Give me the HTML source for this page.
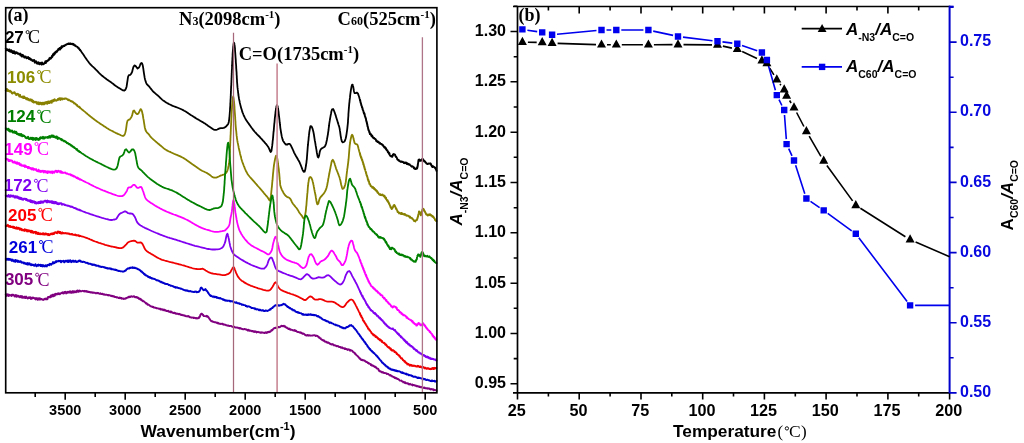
<!DOCTYPE html>
<html><head><meta charset="utf-8"><style>
html,body{margin:0;padding:0;background:#fff;}
body{width:1024px;height:443px;overflow:hidden;font-family:"Liberation Sans",sans-serif;}
svg{display:block;will-change:transform;}
</style></head><body>
<svg width="1024" height="443" viewBox="0 0 1024 443">
<g fill="none" stroke-linejoin="round" stroke-linecap="round" stroke-width="1.8">
<path d="M5.8,48.5 6.2,50.2 6.7,50.2 7.3,49.3 7.7,50.0 8.0,50.0 8.4,50.6 8.7,51.0 9.1,49.6 9.5,49.6 9.9,51.6 10.3,50.8 10.8,51.7 11.2,50.2 11.6,51.3 12.1,52.1 12.5,51.2 12.9,52.9 13.4,53.0 13.8,51.2 14.2,51.4 14.7,52.7 15.1,53.7 15.5,52.6 15.9,52.4 16.3,53.0 16.7,52.3 17.0,52.9 17.4,53.5 17.8,53.8 18.2,53.3 18.5,53.5 18.9,53.6 19.3,54.3 19.7,54.1 20.1,53.6 20.5,55.6 20.9,55.1 21.3,55.5 21.7,54.6 22.0,56.5 22.4,56.4 22.8,54.9 23.2,55.6 23.6,56.6 24.0,56.7 24.4,57.4 24.7,56.4 25.1,57.4 25.5,57.2 25.8,56.6 26.2,57.4 26.6,58.2 26.9,58.3 27.3,57.7 27.6,58.0 28.0,57.0 28.4,57.6 28.9,59.0 29.3,58.4 29.7,58.1 30.1,59.1 30.5,59.7 30.9,59.8 31.3,59.4 31.7,59.7 32.0,60.1 32.4,60.9 32.8,60.5 33.2,60.4 33.5,60.8 33.9,60.0 34.2,60.2 34.6,61.9 34.9,62.6 35.3,62.0 35.6,61.7 36.0,61.3 36.6,62.3 36.9,63.5 37.3,63.1 37.6,62.8 38.1,63.6 38.6,62.4 39.1,63.1 39.5,64.2 39.9,63.5 40.4,63.3 40.8,62.9 41.2,63.6 41.6,64.5 42.0,62.4 42.4,64.1 42.8,64.1 43.2,64.2 43.6,63.8 44.0,63.8 44.3,63.0 44.7,62.9 45.0,62.5 45.4,61.4 45.7,63.0 46.1,62.1 46.4,61.1 46.8,61.5 47.2,61.2 47.5,60.6 47.9,60.3 48.2,60.4 48.5,60.4 48.8,60.1 49.1,59.4 49.4,58.2 49.7,58.3 50.0,57.9 50.3,58.4 50.7,58.7 51.0,58.2 51.3,57.9 51.6,57.6 51.9,56.0 52.2,57.0 52.6,56.3 52.9,54.6 53.2,54.2 53.5,53.8 53.8,55.1 54.1,53.7 54.4,53.1 54.8,53.9 55.1,53.0 55.4,52.0 55.7,51.9 56.0,52.4 56.4,51.3 56.7,51.2 57.0,51.8 57.3,50.9 57.6,50.3 57.9,50.4 58.3,49.1 58.6,49.6 58.9,49.4 59.2,48.6 59.6,48.1 59.9,49.6 60.3,48.4 60.6,47.5 61.0,48.1 61.3,48.3 61.7,46.3 62.0,46.6" stroke="#000000" stroke-width="2.0"/><path d="M62.0,46.7 62.4,47.0 62.7,46.2 63.1,46.5 63.4,46.3 63.8,45.9 64.1,45.4 64.5,46.0 64.8,45.6 65.2,45.1 65.7,44.6 66.1,44.8 66.5,44.3 67.0,44.3 67.4,43.9 67.8,44.1 68.2,43.4 68.6,43.5 69.1,44.1 69.5,44.0 69.9,43.4 70.3,44.0 70.8,43.5 71.2,44.2 71.6,44.1 72.1,43.9 72.5,43.8 72.9,43.8 73.3,44.8 73.8,44.2 74.2,45.2 74.6,45.5 75.0,45.4 75.3,45.2 75.7,46.1 76.0,46.4 76.3,46.4 76.6,46.5 77.0,46.6 77.3,46.9 77.6,47.0 77.9,47.8 78.2,47.9 78.5,48.0 78.9,48.2 79.2,49.1 79.5,49.1 79.7,49.6 80.0,49.7 80.2,50.2" stroke="#000000" stroke-width="1.9"/><path d="M80.2,50.2 81.0,51.1 81.7,52.2 82.4,53.2 83.2,54.3 84.0,55.5 84.6,56.4 85.3,57.4 86.0,58.4 86.7,59.5 87.4,60.5 88.2,61.5 88.9,62.5 89.6,63.4 90.5,64.5 91.5,65.4 92.4,66.3 93.4,67.2 94.4,68.1 95.3,69.0 96.2,70.0 97.2,70.9 98.1,71.9 99.0,72.9 100.0,73.8 100.9,74.7 101.8,75.5 102.8,76.3 103.8,77.1 104.7,77.8 105.7,78.5 106.6,79.2 107.7,80.0 108.8,80.8 109.9,81.5 111.0,82.2 111.9,82.9 113.0,83.7 113.9,84.5 114.8,85.3 115.9,86.1 117.0,86.8 118.2,87.6 119.5,88.3 120.6,89.0 121.9,89.8 123.0,90.4 124.4,90.5 125.4,89.7 126.0,88.4 126.5,87.0 126.7,85.8 126.9,84.5 127.1,83.1 127.3,81.8 127.5,80.6 127.7,79.2 127.9,77.9 128.1,76.7 128.9,75.2 130.2,74.8 131.1,73.9 131.7,72.8 132.2,71.7 132.5,70.3 132.9,68.8 133.2,67.6 133.7,66.4 134.4,65.4 135.4,65.8 136.2,66.7 136.8,67.7 137.6,68.5 138.7,67.8 139.3,66.9 139.8,65.8 140.2,64.7 140.7,63.6 141.7,62.9 142.2,63.8 142.6,64.9 142.9,66.2 143.1,67.4 143.3,68.7 143.5,70.1 143.7,71.5 143.9,72.8 144.1,74.1 144.3,75.4 144.5,76.7 144.7,77.9 145.0,79.2 145.4,80.6 145.8,81.9 146.3,83.1 146.8,84.2 147.9,85.3 148.7,86.0 149.4,86.8 150.1,87.8 151.0,88.9 151.9,90.0 152.8,91.1 153.7,92.0 154.7,92.9 155.6,93.7 156.5,94.4 157.5,95.3 158.5,96.1 159.3,96.9 160.2,97.8 161.1,98.7 162.1,99.6 163.1,100.4 164.1,101.1 165.1,101.8 166.1,102.4 167.1,103.0 168.2,103.6 169.3,104.2 170.5,104.8 171.7,105.4 172.7,105.8 173.8,106.2 174.9,106.7 176.1,107.1 177.2,107.5 178.4,108.0 179.6,108.5 180.8,109.0 181.9,109.5 183.1,110.1 184.1,110.7 185.2,111.3 186.4,112.0 187.5,112.7 188.6,113.5 189.7,114.2 190.7,114.9 191.8,115.6 192.8,116.2 193.7,116.8 194.6,117.4 195.5,117.9 196.7,118.7 198.0,119.4 199.1,120.1 200.1,120.7 201.5,121.5 202.6,122.1 203.9,122.9 205.0,123.6 206.2,124.4 207.2,125.1 208.3,126.0 209.5,126.8 210.6,127.5 211.7,128.2 212.8,129.0 213.9,129.6 215.0,129.9 216.2,129.9 217.3,129.5 218.5,128.9 219.6,128.4 220.9,128.1 222.4,128.1 223.7,127.9 224.9,127.4 226.1,126.5 227.0,125.4 227.9,124.4 228.4,123.3 228.8,121.9 229.0,120.5 229.2,119.3 229.3,118.0 229.5,116.6 229.6,115.1 229.7,114.0 229.8,112.6 229.9,111.5 230.0,110.3 230.0,109.0 230.1,107.8 230.2,106.5 230.3,105.2 230.3,103.9 230.4,102.7 230.5,101.4 230.5,100.2 230.6,99.0 230.7,97.8 230.7,96.6 230.8,95.5 230.8,94.3 230.9,93.1 230.9,91.9 231.0,90.6 231.0,89.3 231.1,88.0 231.1,86.9 231.2,85.8 231.3,84.6 231.3,83.4 231.4,82.2 231.4,80.9 231.5,79.7 231.5,78.5 231.6,77.2 231.6,76.0 231.7,74.8 231.7,73.6 231.8,72.4 231.8,71.1 231.9,69.8 232.0,68.5 232.0,67.2 232.1,65.9 232.1,64.6 232.2,63.3 232.2,62.0 232.3,60.8 232.4,59.6 232.4,58.4 232.5,57.4 232.6,56.0 232.6,54.5 232.7,53.1 232.8,51.8 232.9,50.5 233.0,49.4 233.1,48.3 233.2,46.6 233.4,45.6 233.5,44.3 233.8,42.6 234.3,43.3 234.5,44.7 234.7,45.9 234.8,47.0 235.0,48.7 235.0,49.8 235.1,51.1 235.2,52.4 235.3,53.7 235.4,55.1 235.5,56.6 235.6,58.0 235.7,59.1 235.8,60.3 235.8,61.5 235.9,62.8 236.0,64.0 236.1,65.3 236.2,66.6 236.2,67.9 236.3,69.1 236.4,70.4 236.5,71.6 236.6,72.8 236.6,74.1 236.7,75.3 236.8,76.5 236.8,77.7 236.9,78.9 237.0,80.1 237.0,81.3 237.1,82.4 237.2,83.6 237.3,84.8 237.4,86.1 237.5,87.4 237.7,88.6 237.8,89.9 238.0,91.2 238.1,92.5 238.3,93.7 238.4,95.0 238.6,96.1 238.8,97.3 239.0,98.7 239.3,100.1 239.6,101.4 239.8,102.7 240.1,103.9 240.4,105.1 240.7,106.3 241.0,107.4 241.4,108.8 241.8,110.1 242.2,111.4 242.6,112.6 243.1,113.7 243.5,114.8 244.0,116.0 244.6,117.1 245.1,118.1 245.7,119.2 246.3,120.2 247.0,121.2 247.7,122.3 248.4,123.3 249.2,124.4 250.0,125.5 250.7,126.5 251.4,127.5 252.2,128.5 253.0,129.6 253.8,130.6 254.5,131.5 255.4,132.5 256.3,133.4 257.1,134.3 257.9,135.1 258.8,136.0 259.7,136.9 260.5,137.9 261.5,138.9 262.2,139.7 263.0,140.6 263.9,141.5 264.8,142.6 265.7,143.7 266.6,144.7 267.4,145.8 268.1,146.7 268.6,147.7 269.1,148.7 269.6,149.8 270.1,151.1 270.7,152.1 271.4,151.1 271.6,150.0 271.8,148.4 272.0,147.2 272.2,145.9 272.3,144.6 272.5,143.3 272.6,142.0 272.7,140.8 272.9,139.7 273.0,138.5 273.1,137.3 273.2,136.1 273.3,134.9 273.4,133.6 273.5,132.4 273.7,131.2 273.8,129.9 273.9,128.6 274.0,127.3 274.1,126.1 274.2,124.8 274.3,123.6 274.5,122.3 274.6,121.0 274.7,119.8 274.8,118.5 274.9,117.3 275.1,116.1 275.2,115.0 275.4,113.6 275.5,112.2 275.7,110.8 275.9,109.6 276.0,108.5 276.3,107.2 276.5,106.1 277.0,105.0 277.6,106.1 277.8,107.2 278.1,108.5 278.2,109.6 278.4,110.8 278.6,112.2 278.7,113.6 278.9,115.0 279.0,116.2 279.2,117.4 279.3,118.7 279.5,120.0 279.6,121.2 279.7,122.5 279.9,123.6 280.0,125.0 280.2,126.3 280.3,127.6 280.5,128.9 280.7,130.1 280.9,131.4 281.1,132.8 281.4,134.2 281.6,135.6 281.9,136.9 282.2,138.0 282.6,139.4 283.0,140.6 283.5,141.6 284.2,142.6 285.0,143.7 285.9,144.5 287.5,144.5 288.4,143.8 289.8,143.9 290.6,145.1 291.3,146.3 291.9,147.6 292.5,148.9 293.0,150.0 293.5,151.1 294.0,152.3 294.6,153.5 295.2,154.6 295.8,155.7 296.4,156.7 297.0,157.7 297.6,158.8 298.2,159.9 298.9,161.0 299.5,162.2 300.0,163.4 300.6,164.7 301.1,166.0 301.5,167.0 301.9,168.1 302.4,169.5 302.9,170.6 303.7,171.8 304.6,171.6 305.0,170.4 305.4,169.1 305.6,167.7 305.8,166.6 306.0,165.5 306.1,164.4 306.4,163.0 306.5,161.9 306.6,160.7 306.8,159.5 306.9,158.1 307.0,156.8 307.1,155.5 307.2,154.1 307.3,152.8 307.4,151.6 307.5,150.4 307.6,149.0 307.7,147.6 307.8,146.3 308.0,145.0 308.1,143.7 308.2,142.5 308.3,141.3 308.5,140.1 308.6,138.7 308.7,137.3 308.9,135.9 309.0,134.6 309.2,133.3 309.3,132.1 309.5,131.0 309.7,129.8 309.9,128.6 310.1,127.6 310.5,126.1 311.5,126.3 312.0,127.4 312.5,128.6 312.9,129.9 313.3,131.5 313.6,132.9 313.8,134.0 314.0,135.2 314.2,136.5 314.4,137.8 314.6,139.1 314.8,140.5 315.1,141.8 315.3,143.1 315.5,144.3 315.7,145.7 316.0,147.1 316.2,148.6 316.5,150.1 316.7,151.6 316.9,153.0 317.2,154.3 317.4,155.4 317.8,156.9 318.3,157.6 318.9,156.2 319.2,155.0 319.4,153.9 319.6,152.8 319.8,151.7 320.2,150.4 320.9,149.2 321.8,148.4 322.9,147.8 323.8,147.2 324.9,146.4 325.5,145.3 326.1,143.5 326.3,142.5 326.6,141.3 326.9,140.0 327.1,138.6 327.4,137.1 327.6,135.9 327.9,134.5 328.0,133.3 328.2,132.1 328.4,130.8 328.6,129.5 328.7,128.2 328.9,126.8 329.1,125.5 329.2,124.1 329.4,122.8 329.6,121.6 329.8,120.4 330.0,119.0 330.2,117.9 330.4,116.8 330.6,115.7 330.8,114.7 331.1,113.2 331.3,111.8 331.6,110.7 332.1,109.3 333.1,109.0 333.8,110.2 334.2,111.3 334.7,112.6 335.1,113.7 335.5,114.9 335.9,116.1 336.2,117.4 336.6,118.5 337.0,119.8 337.4,121.1 337.8,122.4 338.2,123.6 338.5,124.7 339.0,126.1 339.4,127.6 339.7,129.0 339.9,130.4 340.1,131.6 340.3,133.1 340.5,134.6 340.7,136.1 341.0,137.5 341.2,138.9 341.5,140.0 341.9,141.4 342.7,142.3 343.9,142.0 344.7,141.1 345.1,140.1 345.6,138.8 346.0,137.1 346.2,136.0 346.4,134.8 346.6,133.6 346.8,132.2 347.0,130.8 347.2,129.3 347.4,127.7 347.5,126.7 347.6,125.6 347.8,123.9 347.9,122.8 348.0,121.7 348.0,120.5 348.1,119.3 348.2,118.0 348.3,116.8 348.4,115.5 348.4,114.2 348.5,113.0 348.6,111.7 348.7,110.4 348.8,109.1 348.9,107.9 349.0,106.7 349.1,105.5 349.2,104.3 349.3,103.2 349.5,101.8 349.6,100.4 349.8,98.9 350.0,97.4 350.1,95.9 350.3,94.4 350.5,92.9 350.7,91.5 350.9,90.2 351.1,88.9 351.3,87.8 351.6,86.2 352.0,84.9 352.6,84.6 353.0,86.1 353.3,87.1 353.5,88.3 353.7,89.5 353.9,90.7 354.1,91.7 354.6,93.1 355.8,93.2 356.8,92.6 357.9,93.4 358.3,94.6 358.8,96.0 359.3,97.6 359.6,98.7 360.0,99.9 360.1,100.4" stroke="#000000"/><path d="M360.1,100.9 360.2,100.1 360.3,100.8 360.4,101.4 360.6,102.8 360.7,102.9 360.8,102.8 360.9,103.0 361.1,104.1 361.2,104.8 361.3,105.4 361.5,105.0 361.6,106.2 361.7,106.3 361.8,106.5 362.0,107.6 362.1,106.9 362.2,108.0 362.3,107.5 362.5,108.0 362.6,109.5 362.7,108.9 362.8,110.0 363.0,110.2 363.1,110.9 363.2,110.6 363.4,111.0 363.5,111.3 363.6,112.4 363.8,112.4 363.9,113.3 364.0,113.6 364.2,112.9 364.3,113.9 364.4,113.6 364.6,113.9 364.7,114.4 364.8,115.9 364.9,116.2 365.1,116.6 365.2,116.4 365.3,117.2 365.5,117.9 365.6,117.7 365.7,118.4 365.8,118.2 365.9,118.4 366.0,119.1 366.1,120.3 366.2,120.3 366.3,121.2 366.4,120.9 366.5,121.1 366.6,122.3 366.7,122.8 366.8,122.0 366.9,123.4 367.0,123.0 367.1,123.5 367.2,125.0 367.3,124.3 367.4,125.0 367.5,126.5 367.6,126.1 367.7,126.1 367.8,126.6 367.9,127.1 368.0,128.2 368.1,127.7 368.2,129.2 368.3,128.9 368.4,130.0 368.5,130.3 368.6,129.8 368.8,130.4 369.0,131.3 369.2,131.1 369.3,132.3 369.5,131.8 369.7,132.2 369.9,134.1 370.2,133.5 370.4,134.2 370.6,134.3 370.9,134.4 371.1,134.3 371.3,135.8 371.6,136.2 371.9,136.4 372.1,135.5 372.4,136.0 372.7,136.9 373.0,137.8 373.3,137.5 373.6,138.0 373.9,138.3 374.3,138.1 374.6,138.8 374.9,138.8 375.2,139.0 375.6,139.1 375.9,139.7 376.2,141.0 376.6,140.5 376.9,141.1 377.2,141.4 377.5,142.1 377.9,141.5 378.2,141.6 378.5,141.9 378.8,142.1 379.1,143.1 379.5,143.4 379.8,142.8 380.1,143.0 380.4,143.6 380.8,143.9 381.1,144.2 381.4,143.9 381.7,143.9 382.0,144.4 382.2,144.4 382.5,145.3 382.8,144.9 383.1,145.2 383.4,146.2 383.6,146.0 383.9,147.0 384.2,146.8 384.5,147.6 384.8,146.9 385.1,147.7 385.4,148.5 385.7,147.8 386.0,149.4 386.2,148.6 386.4,149.8 386.7,150.4 386.9,150.5 387.2,150.2 387.4,150.2 387.7,151.2 387.9,152.2 388.2,151.7 388.4,152.9 388.7,152.3 388.9,153.8 389.2,152.9 389.5,153.7 389.7,154.9 389.9,155.2 390.2,155.6 390.4,155.9 390.6,156.0 390.9,156.2 391.2,156.0 391.6,156.6 392.0,156.1 392.3,156.8 392.5,156.4 392.6,155.4 392.8,154.8 392.9,155.6 393.0,155.0 393.2,154.3 393.5,154.1 393.8,154.4 394.2,154.2 394.4,154.4 394.6,154.6 394.9,154.8 395.1,154.8 395.4,156.1 395.6,156.2 395.9,156.9 396.2,156.6 396.3,157.3 396.5,157.3 396.7,157.6 397.0,158.2 397.3,159.4 397.5,159.2 397.8,159.6 398.1,160.2 398.4,159.9 398.8,159.9 399.1,160.9 399.5,161.0 399.9,161.4 400.3,161.3 400.7,161.8 401.1,162.0 401.5,161.4 402.0,161.9 402.4,162.0 402.8,161.7 403.2,162.1 403.6,162.5 404.0,163.1 404.4,163.2 404.8,162.5 405.2,163.1 405.6,162.4 406.0,162.5 406.3,163.3 406.7,163.9 407.1,163.0 407.5,164.0 407.9,164.3 408.3,163.7 408.7,164.4 409.2,164.8 409.6,164.3 409.9,165.0 410.3,165.2 410.6,165.3 411.0,165.9 411.3,166.3 411.7,166.7 412.1,166.5 412.4,166.2 412.8,166.7 413.2,166.9 413.6,167.7 413.9,168.3 414.3,167.5 414.7,168.7 415.0,168.9 415.3,168.5 415.9,168.9 416.4,168.3 416.8,168.8 417.1,167.2 417.2,168.1 417.4,167.5 417.5,166.8 417.6,165.8 417.7,166.2 417.8,165.8 417.8,164.3 417.9,164.8 417.9,164.5 418.0,163.9 418.0,163.6 418.1,162.9 418.1,163.1 418.2,162.7 418.3,161.4 418.3,161.6 418.4,160.7 418.5,160.0 418.7,159.8 419.1,159.4 419.5,160.3 419.7,160.7 420.0,159.8 420.2,160.8 420.6,160.8 420.9,160.7 421.2,160.6 421.4,160.3 421.6,160.6 421.9,159.1 422.2,159.2 422.6,159.4 423.1,159.2 423.5,160.3 423.8,160.6 424.1,161.3 424.5,160.8 424.7,161.2 425.0,161.8 425.2,161.7 425.6,162.5 425.9,162.4 426.3,163.2 426.6,163.6 427.1,163.8 427.5,164.1 428.0,163.5 428.4,163.4 428.8,163.9 429.2,163.7 429.6,163.5 430.0,163.3 430.3,163.5 430.6,163.5 430.9,164.8 431.2,164.3 431.4,165.5 431.7,165.6 431.9,166.5 432.2,166.6 432.6,167.1 433.0,166.1 433.4,166.8 433.8,167.0 434.1,166.9 434.5,167.4 434.8,167.6 435.1,168.2 435.3,167.7 435.5,168.6 435.6,169.0 435.9,169.2 436.1,169.8 436.5,170.9" stroke="#000000" stroke-width="1.9"/>
<path d="M5.8,90.5 6.2,90.7 6.7,89.0 7.3,89.3 7.7,91.1 8.0,91.0 8.4,91.0 8.7,90.4 9.1,91.3 9.5,91.4 9.9,91.6 10.3,90.8 10.8,91.6 11.2,91.7 11.6,92.6 12.1,93.4 12.5,93.5 12.9,92.8 13.4,92.8 13.8,92.6 14.2,92.3 14.7,92.5 15.1,93.6 15.5,93.5 15.9,93.8 16.3,95.1 16.7,94.4 17.0,94.6 17.4,94.1 17.8,93.8 18.2,94.6 18.5,94.3 18.9,95.3 19.3,96.5 19.7,96.0 20.1,95.0 20.5,96.8 20.9,96.7 21.3,96.7 21.7,97.2 22.0,97.1 22.4,97.3 22.8,96.5 23.2,98.0 23.6,98.1 24.0,96.5 24.4,98.0 24.7,98.0 25.1,97.6 25.5,97.9 25.8,98.0 26.2,99.1 26.6,98.3 26.9,99.1 27.3,98.2 27.6,99.5 28.0,99.8 28.4,99.0 28.9,99.4 29.3,100.4 29.7,100.1 30.1,99.8 30.5,99.4 30.9,99.8 31.3,100.8 31.7,99.8 32.1,101.6 32.5,100.4 32.8,102.0 33.2,100.9 33.6,102.5 33.9,102.1 34.3,101.8 34.6,102.0 35.0,102.4 35.3,102.4 35.6,101.9 36.0,101.8 36.6,102.7 37.1,103.8 37.6,103.3 38.0,102.2 38.4,104.0 38.7,103.8 39.1,104.3 39.5,102.8 39.8,104.1 40.2,102.6 40.5,103.9 40.9,103.1 41.3,103.0 41.8,104.4 42.2,102.7 42.6,103.6 42.9,104.3 43.3,102.9 43.7,102.8 44.0,104.3 44.4,103.2 44.8,103.8 45.2,102.2 45.7,102.8 46.1,102.3 46.5,103.4 46.9,102.0 47.3,103.8 47.7,101.7 48.1,103.1 48.6,101.4 48.9,101.9 49.3,103.0 49.7,101.4 50.1,101.4 50.5,102.4 50.9,101.6 51.3,100.7 51.7,102.7 52.1,100.7 52.4,100.3 52.8,100.8 53.2,101.2 53.6,101.3 53.9,99.8 54.3,100.1 54.7,99.3 55.0,100.1 55.4,100.6 55.8,100.5 56.2,100.7 56.5,100.3 56.9,100.4 57.3,100.0 57.8,99.4 58.2,98.7 58.7,99.6 59.1,98.8 59.6,98.3 60.0,99.0 60.4,99.9 60.9,98.2 61.3,99.2 61.7,98.7 62.2,98.9" stroke="#878000" stroke-width="2.0"/><path d="M62.2,98.6 62.6,99.4 63.0,98.7 63.3,99.0 63.7,98.8 64.2,98.4 64.7,99.0 65.1,98.5 65.6,98.5 66.0,98.5 66.3,98.7 66.8,98.7 67.2,99.3 67.5,99.4 67.9,100.0 68.2,100.0 68.5,100.2 68.8,99.6 69.2,100.0 69.5,100.0 69.9,100.5 70.2,100.8 70.6,101.1 70.9,101.3 71.3,101.0 71.7,101.5 72.1,101.8 72.5,101.5 72.9,101.9 73.3,102.5 73.7,102.5 74.1,103.4 74.4,103.1 74.7,103.2 75.0,103.5 75.3,103.7 75.6,103.9 75.9,104.5 76.2,104.6 76.5,104.7 76.8,105.3 77.1,105.1 77.4,106.1 77.7,106.4 78.1,106.4 78.4,106.4 78.7,106.7 79.0,107.1 79.4,106.8 79.7,107.4 80.0,107.8" stroke="#878000" stroke-width="1.9"/><path d="M80.0,107.8 81.0,108.6 82.0,109.5 83.0,110.3 84.0,111.1 85.0,111.9 85.9,112.7 86.9,113.5 87.9,114.4 88.9,115.2 89.9,116.0 90.8,116.8 91.8,117.5 92.7,118.3 93.7,119.0 94.7,119.8 95.7,120.5 96.7,121.2 97.7,121.9 98.6,122.6 99.6,123.2 100.6,123.9 101.6,124.6 102.7,125.3 103.8,126.1 105.0,126.8 106.1,127.5 107.1,128.2 108.1,128.8 109.2,129.5 110.5,130.2 111.7,130.8 112.9,131.4 114.0,132.0 115.0,132.5 116.2,133.1 117.4,133.6 118.4,134.1 119.5,134.5 120.8,135.2 122.1,135.8 123.5,135.9 124.6,134.6 125.1,133.3 125.4,132.3 125.7,131.1 125.9,130.0 126.1,128.8 126.3,127.3 126.5,125.9 126.7,124.4 126.9,123.1 127.2,121.9 127.6,120.6 128.5,119.8 129.7,119.3 130.4,118.5 131.1,117.5 131.7,116.3 132.2,115.1 132.5,113.7 132.9,112.2 133.2,111.0 134.1,110.4 134.7,111.5 135.3,112.5 136.0,113.3 136.9,114.0 137.9,114.0 138.6,113.2 139.1,112.2 139.6,111.2 140.1,110.0 140.7,109.1 141.6,110.3 142.0,111.5 142.4,113.2 142.6,114.3 142.9,115.6 143.1,117.0 143.3,118.4 143.6,119.7 143.8,121.0 144.0,122.3 144.2,123.6 144.4,124.9 144.6,126.2 144.8,127.5 145.1,128.6 145.5,130.0 146.1,131.3 146.8,132.3 147.6,133.1 148.4,133.9 149.2,134.8 149.8,135.7 150.5,136.6 151.4,137.6 152.2,138.4 153.2,139.3 154.1,140.1 155.0,140.9 156.0,141.8 157.0,142.6 158.0,143.5 159.0,144.3 159.8,145.0 160.8,145.8 161.8,146.6 162.7,147.4 163.5,148.1 164.4,148.8 165.4,149.5 166.4,150.1 167.4,150.6 168.5,151.2 169.5,151.7 170.7,152.2 171.8,152.7 172.9,153.2 174.1,153.8 175.1,154.2 176.2,154.7 177.4,155.1 178.5,155.6 179.7,156.1 180.8,156.6 181.9,157.2 183.0,157.8 184.1,158.4 185.1,159.1 186.2,159.8 187.2,160.6 188.2,161.3 189.3,162.1 190.3,162.8 191.4,163.6 192.4,164.3 193.5,165.0 194.6,165.8 195.7,166.6 196.8,167.3 197.8,168.1 198.9,168.8 199.9,169.4 200.8,170.0 202.0,170.7 203.2,171.3 204.3,171.8 205.3,172.3 206.4,172.8 207.5,173.4 208.5,174.1 209.5,174.8 210.6,175.6 211.6,176.4 212.6,177.1 213.6,177.5 214.7,177.7 216.1,177.6 217.4,177.1 218.8,176.5 220.0,175.9 221.1,175.4 222.1,175.1 223.3,174.7 224.4,174.2 225.3,173.7 226.1,172.9 226.8,171.8 227.3,170.8 227.7,169.6 228.1,168.2 228.3,167.0 228.7,165.3 229.0,163.8 229.2,162.6 229.3,161.2 229.4,160.0 229.5,158.9 229.6,157.1 229.7,155.7 229.8,154.5 229.8,153.3 229.9,152.1 229.9,150.8 230.0,149.5 230.0,148.1 230.1,146.8 230.2,145.4 230.2,144.0 230.3,142.7 230.3,141.3 230.4,140.0 230.4,138.7 230.5,137.4 230.5,136.2 230.6,135.0 230.7,133.7 230.7,132.4 230.8,131.0 230.8,129.7 230.9,128.4 230.9,127.1 231.0,125.9 231.1,124.6 231.1,123.4 231.2,122.2 231.2,121.0 231.3,119.8 231.3,118.7 231.4,117.7 231.5,115.6 231.5,114.2 231.6,113.1 231.7,111.8 231.8,110.4 231.9,109.1 232.0,107.9 232.0,106.8 232.1,105.8 232.2,104.7 232.3,103.6 232.4,102.6 232.5,101.4 232.6,100.3 232.7,99.1 232.9,97.8 233.2,96.5 233.5,97.8 233.7,99.1 233.8,100.3 234.0,101.4 234.1,102.6 234.2,103.6 234.3,104.7 234.4,105.9 234.5,107.1 234.5,108.3 234.6,109.6 234.7,110.9 234.8,112.3 234.9,113.6 235.0,115.0 235.1,116.1 235.2,117.3 235.2,118.5 235.3,119.7 235.4,121.0 235.5,122.2 235.5,123.5 235.6,124.7 235.7,126.0 235.8,127.2 235.9,128.4 236.0,129.6 236.2,130.8 236.3,131.9 236.4,133.1 236.5,134.2 236.6,135.4 236.8,136.6 236.9,137.8 237.1,139.1 237.3,140.4 237.5,141.5 237.7,142.7 238.0,143.9 238.2,145.1 238.5,146.4 238.7,147.7 239.0,149.0 239.3,150.2 239.6,151.5 239.9,152.7 240.1,153.9 240.4,155.0 240.8,156.6 241.1,157.6 241.4,159.0 241.8,160.2 242.1,161.2 242.7,162.9 243.1,163.9 243.5,165.0 243.9,166.1 244.4,167.2 244.8,168.4 245.3,169.5 245.8,170.7 246.4,171.8 247.0,172.9 247.6,174.0 248.3,175.0 249.1,176.0 249.9,177.0 250.7,177.9 251.6,178.9 252.5,179.9 253.4,180.9 254.3,181.9 255.1,182.8 255.8,183.7 256.7,184.6 257.5,185.6 258.3,186.5 259.2,187.5 260.0,188.4 260.8,189.3 261.5,190.2 262.2,191.0 263.2,192.2 264.1,193.3 265.0,194.3 265.8,195.3 266.6,196.2 267.7,197.5 268.3,198.4 268.9,199.5 269.6,200.5 270.2,199.6 270.6,197.8 270.8,196.7 271.0,195.4 271.1,194.0 271.3,192.5 271.4,191.0 271.6,189.5 271.7,188.1 271.9,186.8 272.0,185.7 272.1,184.4 272.2,183.1 272.3,181.8 272.5,180.5 272.6,179.2 272.7,177.9 272.8,176.6 272.9,175.4 273.0,174.2 273.1,173.1 273.3,171.5 273.4,170.0 273.6,168.6 273.7,167.3 273.9,166.0 274.0,164.9 274.2,163.8 274.4,162.7 274.6,161.6 274.8,160.5 275.0,159.3 275.3,158.1 275.6,156.9 276.0,155.7 276.6,155.8 277.0,157.1 277.2,158.3 277.5,159.6 277.7,161.1 277.9,162.5 278.0,163.7 278.2,165.2 278.4,166.7 278.6,168.0 278.8,169.2 278.9,170.5 279.0,171.8 279.2,173.1 279.3,174.4 279.4,175.6 279.5,176.8 279.6,178.0 279.7,179.4 279.9,180.7 280.0,182.0 280.1,183.2 280.2,184.9 280.5,186.0 280.8,187.2 281.3,188.4 281.8,189.6 282.4,190.8 283.0,191.9 283.7,193.2 284.3,194.1 285.1,195.2 285.9,196.1 286.9,196.8 288.2,197.3 289.5,198.0 290.5,199.2 291.1,200.2 291.6,201.4 292.2,202.6 292.9,203.7 293.8,204.8 294.7,205.9 295.6,207.0 296.5,208.0 297.2,209.0 297.8,209.9 298.5,211.1 299.1,212.2 299.8,213.3 300.6,214.3 301.4,215.2 302.1,216.1 302.7,217.2 303.5,218.4 304.5,217.6 304.8,216.5 305.1,215.1 305.3,214.1 305.5,212.9 305.7,211.8 305.9,210.1 306.0,209.0 306.1,207.8 306.2,206.6 306.4,205.3 306.5,204.0 306.6,202.5 306.7,201.0 306.8,200.0 306.9,198.9 307.0,197.7 307.1,196.5 307.2,195.2 307.3,193.8 307.5,192.4 307.6,191.0 307.7,189.6 307.8,188.2 307.9,186.9 308.1,185.7 308.2,184.5 308.3,183.1 308.6,181.5 308.8,180.2 309.0,178.9 309.6,177.4 310.6,177.0 311.5,178.1 312.0,179.3 312.4,180.4 312.8,182.0 313.1,183.0 313.3,184.2 313.6,185.4 313.8,186.7 314.1,188.0 314.3,189.4 314.6,190.7 314.8,192.0 315.1,193.2 315.3,194.3 315.6,195.7 315.8,197.2 316.1,198.7 316.3,200.2 316.6,201.5 316.8,202.7 317.3,204.3 318.1,204.0 318.5,202.9 318.7,201.8 319.0,200.7 319.4,199.5 319.8,198.3 320.4,197.4 321.2,196.4 322.1,195.5 322.9,194.5 323.7,193.6 324.5,192.4 325.1,191.4 325.6,190.3 326.1,189.2 326.5,188.0 326.9,186.3 327.2,185.2 327.4,184.0 327.6,182.8 327.9,181.5 328.1,180.1 328.3,178.8 328.6,177.5 328.8,176.3 329.0,175.1 329.3,173.8 329.5,172.5 329.8,171.1 330.0,169.8 330.3,168.6 330.5,167.4 330.7,166.3 331.1,164.6 331.3,163.3 331.6,162.0 331.9,160.8 332.8,159.8 333.5,161.0 334.0,162.0 334.6,163.5 334.9,164.7 335.3,165.9 335.7,167.2 336.1,168.6 336.5,169.7 336.9,170.7 337.4,171.8 337.8,172.9 338.3,174.1 338.7,175.3 339.2,176.5 339.6,177.7 339.9,178.9 340.3,180.3 340.6,181.8 340.9,183.3 341.2,184.8 341.6,186.1 341.9,187.3 342.5,188.8 343.7,188.4 344.3,187.3 344.7,186.1 345.1,185.0 345.4,183.7 345.7,182.4 345.9,181.2 346.0,180.0 346.2,178.7 346.3,177.3 346.5,176.0 346.6,174.6 346.8,173.3 346.9,172.1 347.1,170.9 347.2,169.6 347.4,168.4 347.6,167.3 347.7,166.2 347.9,165.0 348.0,163.9 348.2,162.6 348.3,161.4 348.5,160.0 348.6,158.9 348.7,157.8 348.8,156.6 348.9,155.3 349.0,154.0 349.1,152.8 349.2,151.5 349.3,150.2 349.4,148.9 349.5,147.7 349.6,146.6 349.7,145.5 349.9,144.1 350.1,143.0 350.2,141.8 350.4,140.7 350.6,139.6 350.9,138.2 351.2,136.9 351.5,135.8 352.1,134.7 352.7,135.6 353.1,136.9 353.4,138.0 353.6,139.1 353.9,140.2 354.2,141.3 354.5,142.7 355.3,143.8 356.4,144.1 357.4,144.8 357.9,146.1 358.2,147.2 358.5,148.5 358.9,149.9 359.2,151.3 359.6,152.6 360.0,153.9" stroke="#878000"/><path d="M360.0,153.5 360.1,153.7 360.2,155.1 360.4,154.9 360.5,155.5 360.6,156.4 360.8,156.4 360.9,156.4 361.0,157.7 361.2,157.3 361.3,157.2 361.5,158.5 361.6,158.1 361.7,158.8 361.9,160.0 362.0,160.1 362.2,159.6 362.3,160.6 362.4,161.0 362.6,161.4 362.7,161.4 362.8,162.3 362.9,162.0 363.1,162.7 363.2,163.1 363.3,164.3 363.4,163.4 363.5,164.8 363.7,164.5 363.8,165.4 363.9,165.5 364.0,166.0 364.1,166.8 364.2,166.6 364.3,166.6 364.4,166.9 364.5,167.2 364.6,168.6 364.7,168.7 364.9,169.6 365.0,169.6 365.1,169.1 365.3,170.5 365.4,171.0 365.5,171.3 365.6,171.3 365.8,171.7 365.9,172.2 366.0,173.1 366.1,172.7 366.3,173.5 366.4,173.8 366.5,174.9 366.6,175.1 366.8,175.7 366.9,176.0 367.0,175.7 367.1,176.1 367.3,176.9 367.4,177.0 367.6,177.7 367.7,178.5 367.8,179.3 368.0,179.3 368.1,180.1 368.3,179.5 368.4,180.3 368.6,181.6 368.7,180.8 368.8,181.6 369.0,181.5 369.1,181.9 369.3,183.5 369.4,183.9 369.6,183.8 369.8,183.7 370.1,184.5 370.3,184.8 370.5,185.7 370.8,186.1 371.1,186.1 371.4,186.6 371.7,186.3 372.1,187.2 372.4,187.9 372.7,187.9 373.1,187.1 373.4,187.9 373.7,188.4 374.0,187.9 374.4,189.1 374.7,188.7 375.0,189.4 375.3,189.3 375.5,190.4 375.8,190.5 376.1,190.5 376.4,190.3 376.7,191.1 377.0,190.8 377.2,192.0 377.5,192.7 377.8,192.1 378.1,192.9 378.4,193.1 378.6,193.3 378.9,194.0 379.2,194.5 379.6,194.4 379.9,194.3 380.3,195.1 380.7,194.3 381.1,195.0 381.4,194.9 381.8,195.1 382.2,195.3 382.6,194.6 382.9,195.3 383.3,195.2 383.7,195.8 384.0,196.5 384.2,196.3 384.5,195.7 384.7,196.6 385.0,197.3 385.2,197.9 385.5,197.9 385.8,198.5 386.0,197.7 386.3,199.4 386.5,199.5 386.8,199.7 387.0,200.5 387.3,200.8 387.5,200.1 387.7,201.5 388.0,201.8 388.2,201.4 388.4,202.5 388.6,202.7 388.8,202.6 389.0,203.9 389.2,203.4 389.4,204.5 389.6,204.7 389.8,204.9 390.0,205.8 390.2,206.1 390.4,206.1 390.6,207.6 390.7,206.7 390.9,207.0 391.3,208.2 391.6,209.0 392.2,208.6 392.4,208.3 392.7,207.5 392.9,207.5 393.1,206.6 393.2,206.2 393.5,206.1 393.8,205.1 394.4,205.0 394.8,206.3 395.0,205.8 395.2,206.9 395.4,207.3 395.6,207.2 395.8,208.0 396.0,208.6 396.2,209.1 396.3,208.4 396.4,208.7 396.6,209.3 396.8,209.8 396.9,209.9 397.1,209.9 397.4,211.1 397.6,212.1 397.9,211.6 398.1,212.2 398.4,212.2 398.8,212.6 399.1,213.4 399.5,212.8 399.9,213.4 400.3,213.3 400.7,213.5 401.1,214.1 401.5,213.0 401.9,214.1 402.4,213.4 402.8,214.0 403.2,214.3 403.6,214.2 404.0,214.0 404.4,214.7 404.8,213.9 405.2,214.8 405.6,214.6 406.0,215.0 406.4,215.7 406.8,215.8 407.2,215.7 407.6,215.5 408.0,215.6 408.4,216.1 408.8,216.1 409.2,216.4 409.6,217.5 410.0,216.6 410.3,217.8 410.7,217.5 411.1,217.8 411.5,218.0 411.9,218.0 412.3,218.9 412.7,218.8 413.0,219.5 413.4,219.6 413.8,220.7 414.1,220.9 414.4,220.5 414.8,220.9 415.3,221.5 415.7,220.6 416.1,220.2 416.4,220.1 416.6,219.7 416.9,220.0 417.1,219.1 417.2,218.7 417.4,218.9 417.5,217.7 417.6,218.2 417.7,217.6 417.8,216.8 418.0,216.9 418.0,215.9 418.1,216.3 418.2,216.0 418.2,215.0 418.3,214.9 418.4,214.9 418.4,214.3 418.5,214.0 418.6,213.8 418.7,213.4 418.8,212.7 418.9,212.7 419.0,211.4 419.2,211.5 419.6,211.9 419.8,211.9 419.9,212.4 420.0,212.5 420.2,214.0 420.3,213.6 420.4,214.2 420.9,215.3 421.2,213.8 421.3,214.5 421.4,212.9 421.5,212.4 421.6,212.5 421.7,212.1 421.8,212.5 421.9,212.1 422.0,211.5 422.1,210.7 422.2,210.5 422.3,209.7 422.4,210.1 422.6,209.1 423.0,208.7 423.4,209.4 423.8,209.3 424.0,209.9 424.2,211.1 424.4,210.3 424.6,210.7 424.7,211.1 424.9,211.5 425.0,212.0 425.2,212.1 425.4,212.7 425.7,213.1 425.9,213.4 426.1,214.3 426.6,214.5 427.0,214.7 427.5,215.4 427.9,214.4 428.3,214.4 428.7,215.3 429.2,214.6 429.6,215.1 430.0,214.2 430.3,214.9 430.7,215.4 431.0,214.9 431.4,215.7 431.7,215.7 432.1,215.6 432.4,216.7 432.7,216.1 433.1,216.5 433.4,217.1 433.6,216.9 433.9,218.0 434.1,218.0 434.4,218.3 434.7,218.6 434.9,219.7 435.2,220.1 435.4,220.3 435.6,220.1 435.8,220.4 436.0,220.9 436.2,220.5 436.5,221.1" stroke="#878000" stroke-width="1.9"/>
<path d="M5.8,128.2 6.2,129.1 6.7,128.9 7.3,129.6 7.7,129.8 8.0,128.7 8.4,128.7 8.7,130.7 9.1,129.6 9.5,129.7 9.9,131.5 10.3,130.5 10.8,131.5 11.2,130.8 11.6,131.4 12.1,130.5 12.5,131.7 12.9,132.4 13.4,131.8 13.8,132.5 14.2,132.5 14.7,131.3 15.1,133.0 15.5,132.8 15.9,132.3 16.3,131.9 16.7,133.9 17.0,133.1 17.4,133.8 17.8,134.3 18.2,134.1 18.6,134.7 19.0,133.8 19.3,134.8 19.7,134.2 20.1,135.4 20.5,135.5 20.9,133.9 21.3,134.2 21.7,134.5 22.1,136.3 22.5,135.3 22.9,135.9 23.3,135.3 23.7,136.0 24.1,135.8 24.4,135.9 24.8,136.6 25.2,136.7 25.5,137.6 25.9,137.2 26.3,137.9 26.6,137.8 26.9,138.3 27.6,137.8 28.1,136.8 28.5,138.5 29.0,138.9 29.4,138.9 29.8,138.2 30.3,138.7 30.7,137.7 31.1,139.1 31.4,138.7 31.8,138.1 32.2,137.7 32.6,139.5 33.0,139.9 33.3,138.0 33.7,139.6 34.1,138.8 34.4,138.3 34.8,138.6 35.1,139.7 35.5,139.9 35.9,138.1 36.4,139.4 36.8,138.1 37.2,139.5 37.6,138.6 38.0,139.7 38.4,139.9 38.9,138.8 39.3,139.7 39.7,138.1 40.1,137.5 40.5,138.6 40.9,137.2 41.3,137.5 41.8,137.9 42.2,138.2 42.6,137.2 43.0,136.9 43.3,138.6 43.7,137.3 44.1,138.6 44.6,138.4 45.0,137.2 45.4,137.3 45.8,137.3 46.2,137.5 46.6,137.3 47.0,137.2 47.4,137.2 47.9,137.9 48.2,136.8 48.6,136.6 49.0,137.2 49.4,136.1 49.7,136.2 50.1,137.7 50.6,136.6 51.0,136.7 51.4,135.5 51.8,136.4 52.2,136.7 52.6,135.5 53.0,136.8 53.3,136.9 53.7,135.7 54.1,137.0 54.5,136.8 54.9,137.3 55.3,136.7 55.8,137.7 56.1,137.8 56.5,136.4 56.9,136.6 57.2,138.1 57.6,138.9 58.0,137.4 58.4,138.1 58.7,138.5 59.1,138.1 59.5,138.4 59.9,138.5 60.4,138.8 60.8,139.5 61.2,139.0 61.6,139.4 62.0,140.2" stroke="#008000" stroke-width="2.0"/><path d="M62.0,139.4 62.4,140.2 62.9,140.6 63.3,140.4 63.7,140.5 64.0,141.3 64.4,140.9 64.7,141.0 65.0,141.5 65.4,141.9 65.7,141.5 66.0,142.0 66.4,142.2 66.7,142.9 67.1,142.7 67.4,143.3 67.8,142.9 68.1,143.2 68.5,143.8 68.8,144.2 69.2,144.0 69.5,144.0 69.9,144.1 70.2,144.8 70.6,144.7 71.0,145.5 71.3,145.8 71.7,145.4 72.0,145.7 72.4,146.5 72.7,146.5 73.0,146.9 73.3,146.7 73.7,146.7 74.0,147.1 74.3,147.9 74.6,147.6 74.9,147.9 75.3,148.2 75.6,148.5 75.9,148.7 76.2,149.5 76.6,148.9 76.9,149.0 77.2,150.2 77.5,150.4 77.8,150.8 78.2,150.5 78.5,151.3 78.8,151.5 79.1,151.0 79.4,151.8 79.8,152.1 80.1,152.0" stroke="#008000" stroke-width="1.9"/><path d="M80.1,152.0 81.1,152.7 82.0,153.4 83.1,154.1 84.1,154.8 85.2,155.5 86.2,156.2 87.3,156.8 88.4,157.5 89.4,158.1 90.5,158.7 91.6,159.3 92.7,159.9 93.8,160.5 94.9,161.0 96.1,161.6 97.2,162.1 98.3,162.7 99.4,163.2 100.6,163.8 101.7,164.4 102.9,165.0 104.1,165.6 105.3,166.2 106.4,166.8 107.5,167.3 108.8,167.9 109.8,168.3 111.2,168.9 112.4,169.3 113.9,169.6 115.4,169.4 116.4,168.5 117.1,167.2 117.6,165.8 117.9,164.5 118.2,163.1 118.5,161.6 118.8,160.2 119.1,158.9 119.5,157.6 120.3,156.5 121.4,156.0 122.4,155.5 123.5,154.2 123.9,153.1 124.3,152.1 124.6,151.0 125.1,149.9 126.2,149.3 127.0,150.3 127.9,151.6 129.1,152.5 130.3,151.6 131.2,150.4 132.0,149.4 133.5,149.5 134.1,150.4 134.6,151.5 135.2,153.2 135.4,154.3 135.6,155.6 135.9,156.9 136.1,158.2 136.3,159.4 136.6,160.7 136.8,162.0 137.0,163.3 137.3,164.6 137.6,165.8 138.0,166.9 138.6,168.0 139.5,169.0 140.6,169.8 141.6,170.6 142.4,171.4 143.2,172.3 144.1,173.2 145.0,174.2 146.0,175.2 147.0,176.2 148.0,177.1 149.0,177.9 149.9,178.7 151.0,179.5 152.0,180.2 153.1,181.0 154.1,181.7 155.2,182.5 156.2,183.2 157.2,183.9 158.3,184.6 159.4,185.2 160.5,185.9 161.6,186.5 162.8,187.1 164.0,187.6 165.3,188.1 166.5,188.5 167.8,188.9 169.1,189.3 170.3,189.8 171.4,190.2 172.6,190.7 173.7,191.2 174.8,191.8 175.9,192.3 177.0,192.9 178.2,193.6 179.2,194.2 180.2,194.8 181.2,195.5 182.3,196.2 183.4,196.9 184.5,197.6 185.6,198.3 186.6,198.9 187.6,199.6 188.9,200.3 190.0,201.0 191.1,201.6 192.2,202.2 193.3,202.8 194.4,203.4 195.5,204.0 196.6,204.6 197.7,205.1 198.8,205.7 200.0,206.2 201.2,206.8 202.3,207.4 203.6,208.0 204.8,208.6 206.1,209.2 207.2,209.6 208.3,209.9 209.6,210.0 210.9,209.7 212.1,209.2 213.2,208.7 214.3,208.3 215.8,208.1 217.1,208.1 218.4,207.8 219.4,207.4 220.7,206.7 221.5,205.8 222.0,204.7 222.5,203.1 222.8,201.8 223.0,200.6 223.1,199.4 223.3,198.1 223.4,196.7 223.6,195.3 223.7,193.9 223.9,192.5 224.0,191.3 224.1,190.2 224.2,189.0 224.2,187.9 224.3,186.7 224.4,185.5 224.5,184.2 224.6,183.0 224.6,181.7 224.7,180.5 224.8,179.3 224.9,178.0 224.9,176.8 225.0,175.6 225.1,174.4 225.2,173.1 225.3,171.9 225.4,170.7 225.5,169.4 225.6,168.2 225.7,166.9 225.8,165.7 225.9,164.5 225.9,163.3 226.0,162.2 226.1,161.1 226.2,160.0 226.3,158.6 226.4,157.2 226.5,155.9 226.6,154.6 226.7,153.3 226.8,152.1 226.9,151.0 227.0,149.9 227.2,148.0 227.3,146.9 227.5,145.7 227.6,144.4 227.9,143.1 228.3,142.7 228.6,144.1 228.8,145.4 229.0,146.8 229.1,148.0 229.2,149.2 229.4,150.6 229.5,152.0 229.5,153.2 229.6,154.4 229.7,155.6 229.8,156.9 229.9,158.2 229.9,159.6 230.0,160.9 230.1,162.3 230.2,163.7 230.3,165.0 230.4,166.2 230.5,167.4 230.6,168.6 230.7,169.9 230.8,171.1 230.9,172.4 231.0,173.7 231.1,174.9 231.2,176.2 231.3,177.4 231.4,178.6 231.5,179.8 231.7,180.9 231.9,182.4 232.1,183.8 232.3,185.1 232.5,186.4 232.7,187.6 232.9,188.7 233.2,189.8 233.4,190.9 233.7,192.1 234.0,193.2 234.3,194.5 234.7,195.7 235.0,197.0 235.4,198.3 235.7,199.5 236.1,200.7 236.6,201.8 237.1,202.9 237.6,204.0 238.3,205.1 238.9,206.0 239.6,206.9 240.4,207.8 241.2,208.6 242.1,209.6 243.1,210.6 243.9,211.4 244.7,212.3 245.6,213.3 246.6,214.2 247.5,215.2 248.5,216.2 249.5,217.1 250.4,218.0 251.3,218.9 252.1,219.7 253.1,220.7 254.1,221.6 255.0,222.4 255.9,223.2 256.8,224.0 257.7,224.8 258.6,225.6 259.5,226.5 260.5,227.6 261.6,228.8 262.6,230.0 263.5,231.1 264.4,231.9 265.6,232.7 266.6,231.8 266.9,230.7 267.0,229.5 267.2,228.3 267.4,227.0 267.6,225.7 267.8,224.5 267.9,223.3 268.1,222.0 268.2,220.7 268.4,219.4 268.5,218.1 268.7,216.8 268.8,215.5 269.0,214.4 269.1,213.1 269.3,211.7 269.5,210.3 269.6,209.0 269.8,207.7 270.0,206.5 270.1,205.3 270.3,204.1 270.5,203.0 270.7,201.9 270.9,200.8 271.1,199.6 271.3,198.5 271.6,197.0 271.8,195.9 272.4,195.5 272.8,197.0 273.0,198.4 273.2,199.5 273.3,200.7 273.5,201.9 273.6,203.0 273.8,204.4 273.9,205.6 273.9,206.8 274.0,208.1 274.1,209.3 274.2,210.6 274.3,211.9 274.5,213.1 274.6,214.3 274.8,215.5 275.0,216.9 275.3,218.3 275.6,219.6 275.9,220.8 276.2,222.0 276.5,223.1 276.9,224.2 277.4,225.5 278.0,226.7 278.7,227.7 279.3,228.6 280.1,229.5 280.9,230.4 281.9,231.2 282.9,231.9 283.9,232.6 284.8,233.2 285.9,233.9 286.8,234.4 287.8,235.2 288.7,236.0 289.5,237.0 290.4,238.1 291.3,239.2 292.1,240.4 293.0,241.4 293.7,242.4 294.5,243.5 295.3,244.5 296.1,245.5 296.8,246.3 297.6,247.4 298.3,248.4 299.1,249.4 300.1,249.0 300.6,247.5 300.9,246.2 301.2,245.0 301.4,243.7 301.7,242.3 301.9,240.9 302.1,239.4 302.4,238.0 302.6,236.5 302.8,235.2 303.0,233.9 303.1,232.6 303.3,231.3 303.4,229.9 303.6,228.5 303.7,227.1 303.8,225.7 303.9,224.3 304.1,223.0 304.2,221.8 304.3,220.6 304.5,219.0 304.8,217.8 305.0,216.7 305.8,215.5 306.9,216.5 307.5,217.6 308.0,218.9 308.5,220.2 308.9,221.2 309.3,222.6 309.6,223.7 310.0,224.9 310.3,226.1 310.6,227.4 310.9,228.7 311.3,229.9 311.6,231.1 312.0,232.5 312.4,233.5 312.7,234.6 313.2,235.7 313.7,237.1 314.4,238.1 315.3,237.6 315.7,236.3 316.0,235.2 316.3,234.1 316.7,232.9 317.2,231.7 317.9,230.6 318.6,229.7 319.3,228.7 320.1,227.8 320.9,227.1 321.8,226.4 322.7,225.3 323.2,224.2 323.7,222.6 324.0,221.4 324.3,220.1 324.6,218.8 324.9,217.4 325.1,216.0 325.4,214.6 325.7,213.3 325.9,212.2 326.2,210.8 326.6,209.4 326.9,208.1 327.2,206.8 327.6,205.6 327.9,204.5 328.3,203.0 328.6,201.9 329.0,200.9 330.2,201.7 330.8,202.8 331.5,204.1 332.0,205.0 332.6,206.3 333.1,207.4 333.6,208.5 334.1,209.7 334.6,210.9 335.1,212.0 335.5,213.3 336.0,214.5 336.4,215.8 336.8,217.0 337.2,218.2 337.6,219.5 337.9,220.6 338.2,221.7 338.4,222.7 338.8,224.0 339.3,225.3 340.4,225.0 341.2,224.0 341.8,222.9 342.5,221.5 342.9,220.5 343.2,219.3 343.6,218.1 344.0,216.5 344.2,215.4 344.4,214.2 344.6,212.9 344.8,211.6 345.0,210.2 345.2,208.9 345.4,207.5 345.6,206.1 345.8,204.8 345.9,203.5 346.1,202.2 346.3,201.1 346.4,200.0 346.5,199.0 346.7,197.5 346.8,196.1 346.9,194.8 347.0,193.6 347.1,192.4 347.2,191.2 347.3,190.1 347.5,189.0 347.7,187.7 347.9,186.3 348.2,184.8 348.4,183.2 348.7,181.8 349.0,180.5 349.4,179.3 350.1,178.6 350.6,179.9 351.0,181.3 351.3,182.3 351.6,183.6 352.1,184.8 352.9,185.9 353.8,186.7 354.5,187.6 355.2,188.8 355.6,189.9 356.0,191.1 356.5,192.4 356.9,193.7 357.3,195.0 357.7,196.1 358.2,197.4 358.7,198.7 359.2,199.8 359.6,201.1 360.0,202.0" stroke="#008000"/><path d="M360.0,202.0 360.1,202.1 360.3,202.5 360.4,202.7 360.5,202.8 360.7,204.0 360.8,203.9 360.9,205.0 361.1,204.4 361.2,206.0 361.4,206.1 361.5,206.8 361.7,207.2 361.8,207.6 361.9,207.6 362.1,207.2 362.2,208.6 362.4,208.3 362.5,208.9 362.7,209.8 362.8,210.0 362.9,210.3 363.1,211.4 363.2,211.3 363.3,211.4 363.4,211.7 363.5,212.9 363.7,212.8 363.8,213.6 363.9,213.4 364.0,213.7 364.2,214.5 364.3,215.4 364.4,214.9 364.5,216.2 364.7,216.8 364.8,217.0 364.9,217.4 365.1,216.7 365.2,218.0 365.3,218.7 365.5,218.0 365.6,218.7 365.8,219.1 365.9,219.9 366.1,220.2 366.2,220.7 366.4,221.6 366.5,220.9 366.7,221.4 366.9,222.0 367.0,222.4 367.2,222.7 367.4,224.4 367.5,224.7 367.7,224.0 367.9,225.0 368.1,225.1 368.2,225.5 368.4,225.9 368.6,226.6 368.8,226.9 369.0,226.9 369.3,227.1 369.6,227.7 369.9,227.7 370.2,228.7 370.5,229.2 370.8,229.1 371.1,228.9 371.4,229.3 371.8,229.9 372.1,230.5 372.4,231.0 372.8,230.8 373.1,231.7 373.5,231.8 373.8,231.8 374.1,232.0 374.4,232.5 374.7,233.2 375.1,233.1 375.4,233.8 375.7,233.9 376.1,233.9 376.4,234.7 376.8,235.3 377.1,234.7 377.4,235.6 377.7,235.9 378.1,236.8 378.4,237.1 378.7,236.6 379.2,237.8 379.5,237.7 379.9,237.1 380.2,237.5 380.6,237.0 381.0,237.9 381.4,237.6 381.7,237.9 382.2,238.0 382.6,238.0 383.1,238.6 383.3,238.6 383.5,238.3 383.8,239.3 384.1,238.8 384.3,239.4 384.6,240.6 384.9,240.0 385.1,240.4 385.4,240.9 385.6,242.3 385.9,241.8 386.2,241.9 386.4,243.4 386.6,242.8 386.9,244.1 387.1,244.2 387.4,244.9 387.7,245.5 387.9,245.4 388.2,246.1 388.4,245.5 388.7,246.9 388.9,247.0 389.2,247.6 389.4,247.1 389.6,248.4 389.9,248.9 390.1,248.0 390.5,248.8 390.9,249.0 391.2,249.3 391.5,248.1 391.8,247.6 392.3,247.6 392.7,248.1 393.1,248.6 393.4,248.4 393.6,248.6 393.9,249.0 394.1,249.2 394.4,249.7 394.7,249.6 395.0,250.6 395.2,251.6 395.6,251.2 395.9,252.1 396.2,251.6 396.5,252.7 396.9,253.1 397.2,253.2 397.5,253.2 397.9,253.4 398.2,253.8 398.6,254.3 399.0,253.5 399.3,253.6 399.7,254.6 400.1,255.0 400.5,254.6 400.9,254.6 401.3,255.2 401.7,254.5 402.1,254.8 402.5,254.8 402.9,255.5 403.3,255.3 403.6,255.3 404.0,256.1 404.4,256.6 404.9,255.9 405.3,256.6 405.7,256.3 406.1,257.1 406.5,256.9 406.9,256.6 407.3,256.7 407.6,256.6 408.0,257.4 408.4,257.4 408.8,257.3 409.2,257.7 409.6,257.9 410.0,258.7 410.3,258.0 410.7,259.5 411.1,259.1 411.5,259.5 411.9,259.7 412.2,260.5 412.6,260.8 413.0,260.7 413.4,260.8 413.7,261.4 414.1,261.8 414.7,261.3 415.3,261.7 415.7,261.7 415.9,260.7 416.1,260.0 416.3,259.6 416.5,259.9 416.6,259.4 416.8,259.3 416.9,258.6 417.0,257.3 417.2,256.7 417.3,256.3 417.4,255.8 417.6,256.1 417.7,256.0 417.8,255.7 418.1,254.4 418.5,255.3 418.9,254.6 419.2,255.1 419.4,255.9 419.7,255.4 420.0,255.6 420.4,256.9 420.7,255.6 420.9,255.3 421.0,255.2 421.1,254.9 421.2,253.7 421.3,253.8 421.4,253.4 421.5,253.0 421.7,252.2 421.8,252.4 422.1,252.5 422.5,252.0 422.7,252.7 422.8,252.5 423.0,253.1 423.1,254.0 423.2,253.5 423.4,255.0 423.5,255.3 423.7,254.5 424.0,256.1 424.3,255.6 424.7,256.3 425.1,256.4 425.5,255.8 426.0,256.4 426.4,256.3 426.9,256.5 427.4,255.8 427.9,256.5 428.3,256.9 428.8,256.6 429.1,256.7 429.5,256.3 429.8,257.1 430.2,257.1 430.5,257.9 430.8,258.2 431.2,258.3 431.5,258.1 431.8,259.1 432.2,259.4 432.5,259.0 432.8,260.3 433.1,260.3 433.5,259.9 433.8,261.4 434.2,260.6 434.5,261.2 434.9,262.1 435.2,262.3 435.6,262.5 435.8,262.9 436.1,262.9 436.5,263.1" stroke="#008000" stroke-width="1.9"/>
<path d="M5.8,158.8 6.3,158.7 6.8,159.4 7.5,159.2 7.9,159.2 8.2,159.9 8.6,161.0 9.0,160.9 9.5,161.0 9.9,160.1 10.3,160.8 10.8,160.5 11.3,160.5 11.7,160.5 12.2,160.9 12.7,162.3 13.1,162.3 13.6,162.4 14.1,162.6 14.5,161.6 15.0,162.0 15.4,162.7 15.9,163.1 16.3,163.4 16.7,163.6 17.0,162.3 17.4,163.4 17.8,163.7 18.1,163.5 18.5,163.1 18.9,163.8 19.3,163.2 19.6,164.9 20.0,164.9 20.4,164.5 20.8,164.2 21.1,165.5 21.5,165.0 21.9,165.7 22.3,165.8 22.7,165.4 23.0,165.4 23.4,165.9 23.8,165.7 24.2,165.4 24.6,165.8 24.9,166.9 25.3,165.6 25.7,165.8 26.1,167.0 26.5,166.5 26.8,167.1 27.2,167.1 27.6,167.0 28.0,168.3 28.4,167.0 28.8,167.6 29.2,167.3 29.6,168.2 30.0,167.7 30.4,168.0 30.8,168.8 31.2,168.2 31.6,168.8 32.0,169.5 32.4,168.2 32.9,168.3 33.3,168.7 33.7,169.8 34.1,169.6 34.5,169.1 34.9,169.4 35.3,169.2 35.7,169.8 36.1,169.2 36.5,170.5 36.9,170.9 37.3,171.1 37.7,170.8 38.1,171.3 38.5,169.7 38.9,170.3 39.3,171.6 39.7,171.4 40.1,170.8 40.5,171.9 41.0,171.4 41.4,171.8 41.8,170.9 42.2,170.8 42.6,171.4 43.1,170.9 43.5,171.4 43.9,172.5 44.3,171.4 44.7,170.9 45.2,171.1 45.6,171.3 46.0,172.5 46.4,171.8 46.8,171.7 47.2,171.4 47.6,173.1 48.0,172.1 48.3,171.7 48.7,171.5 49.1,171.5 49.4,171.8 50.1,172.7 50.6,171.8 51.1,171.6 51.5,172.3 51.9,171.9 52.3,173.1 52.7,171.5 53.1,172.1 53.5,172.5 53.8,171.7 54.2,172.7 54.6,171.7 54.9,171.2 55.3,171.4 55.7,170.7 56.1,171.4 56.6,171.0 57.0,172.2 57.5,172.1 57.9,171.5 58.2,170.7 58.6,171.2 59.0,171.2 59.4,171.2 59.8,171.3 60.2,172.5 60.6,171.3 61.0,171.2 61.5,172.8 61.9,172.3 62.3,172.6" stroke="#FF00FF" stroke-width="2.0"/><path d="M62.3,172.2 62.8,172.7 63.2,172.6 63.6,172.8 64.1,172.8 64.5,172.7 64.9,172.5 65.4,172.7 65.8,173.4 66.2,173.5 66.6,173.7 67.0,173.3 67.4,173.7 67.8,173.9 68.2,173.9 68.6,174.2 69.0,174.1 69.4,174.3 69.8,174.5 70.2,174.3 70.6,175.0 70.9,175.2 71.3,174.7 71.7,175.6 72.1,175.7 72.4,175.7 72.8,175.3 73.2,176.2 73.5,175.8 73.9,176.6 74.3,176.6 74.6,176.3 75.0,176.5 75.3,177.1 75.7,177.2 76.1,177.6 76.5,177.9 76.8,177.5 77.2,177.5 77.6,178.4 78.0,177.9 78.3,178.7 78.7,178.3 79.1,179.1 79.5,179.2 79.8,179.5 80.2,179.4" stroke="#FF00FF" stroke-width="1.9"/><path d="M80.2,179.4 81.4,179.9 82.5,180.5 83.7,181.1 84.8,181.6 85.9,182.2 87.1,182.8 88.2,183.3 89.3,183.9 90.4,184.5 91.6,185.1 92.7,185.6 93.8,186.2 94.9,186.7 96.0,187.3 97.2,187.8 98.3,188.3 99.4,188.8 100.5,189.3 101.7,189.8 102.8,190.3 103.9,190.7 105.1,191.2 106.3,191.7 107.5,192.1 108.7,192.6 109.9,193.0 111.0,193.4 112.1,193.8 113.4,194.3 114.4,194.6 115.7,195.1 116.9,195.5 118.0,195.8 119.4,196.1 120.6,196.2 122.0,196.2 123.2,195.7 124.1,194.9 125.0,193.8 125.8,192.6 126.5,191.5 127.1,190.3 127.6,189.0 128.1,187.9 129.2,187.3 130.4,187.4 131.4,186.9 132.3,185.8 133.3,184.8 134.6,184.9 135.5,185.8 136.4,187.0 137.3,187.8 138.5,187.9 139.8,187.1 141.0,186.9 141.8,187.9 142.3,189.1 142.8,190.5 143.3,191.8 143.7,193.0 144.1,194.4 144.6,195.7 145.0,197.0 145.5,198.1 146.3,199.4 147.7,200.6 148.6,201.3 150.0,202.3 150.9,202.9 152.0,203.6 153.1,204.3 154.2,205.0 155.3,205.7 156.5,206.4 157.5,207.0 158.7,207.6 159.8,208.3 161.0,208.9 162.2,209.5 163.4,210.1 164.6,210.6 165.6,211.1 166.9,211.7 168.0,212.2 169.2,212.7 170.4,213.2 171.6,213.6 172.8,214.1 173.9,214.5 175.2,214.9 176.5,215.4 177.7,215.9 178.7,216.3 179.7,216.7 180.9,217.2 182.1,217.7 183.3,218.2 184.5,218.7 185.7,219.3 186.8,219.8 188.0,220.4 189.1,221.0 190.2,221.6 191.2,222.3 192.3,222.9 193.3,223.5 194.3,224.1 195.4,224.7 196.6,225.4 197.8,226.0 198.9,226.6 200.0,227.1 201.1,227.7 202.3,228.2 203.6,228.7 204.9,229.1 206.2,229.5 207.4,229.8 208.7,230.2 210.0,230.6 211.2,231.0 212.5,231.4 213.7,231.7 215.0,231.9 216.4,231.9 217.8,231.8 219.3,231.6 220.7,231.3 222.0,231.1 223.4,230.8 224.5,230.7 225.8,229.7 226.8,228.7 227.6,227.7 228.4,226.7 229.0,225.6 229.4,224.5 229.7,223.5 229.9,222.2 230.1,220.8 230.3,219.4 230.5,218.0 230.8,216.7 231.1,215.4 231.4,214.1 231.6,212.8 231.9,211.4 232.0,210.1 232.2,208.7 232.3,207.3 232.5,205.9 232.6,204.7 232.8,203.6 232.9,202.4 233.1,201.2 233.5,200.0 233.9,201.3 234.1,202.7 234.3,203.8 234.5,205.0 234.7,206.7 234.9,207.8 235.0,209.0 235.1,210.2 235.3,211.6 235.5,213.0 235.8,214.7 236.0,215.8 236.2,217.0 236.4,218.2 236.6,219.5 236.9,220.8 237.1,222.1 237.4,223.4 237.7,224.6 238.0,225.8 238.3,226.9 238.7,228.1 239.1,229.4 239.6,230.6 240.2,231.7 240.7,232.8 241.3,233.9 242.0,234.9 242.6,235.9 243.3,236.9 244.1,238.0 244.8,239.0 245.6,240.0 246.5,240.9 247.3,241.9 248.2,242.8 249.2,243.7 250.1,244.4 251.1,245.2 252.2,245.9 253.3,246.5 254.4,247.2 255.6,247.8 256.7,248.3 257.7,248.9 258.9,249.5 259.8,250.0 261.0,250.6 262.1,251.1 263.0,251.5 264.0,252.0 265.2,252.8 266.4,253.6 267.5,254.3 268.8,254.4 269.8,253.6 270.6,252.4 271.3,251.3 271.8,250.2 272.1,249.0 272.4,247.7 272.6,246.5 272.8,245.2 273.1,243.9 273.4,242.6 273.8,241.3 274.1,240.2 274.4,239.1 274.8,238.0 275.5,236.7 276.2,237.3 276.7,238.8 277.0,240.2 277.3,241.7 277.7,243.1 278.0,244.5 278.3,245.7 278.6,246.9 278.8,248.1 279.1,249.3 279.4,250.5 279.7,251.6 280.2,252.7 280.7,253.8 281.5,255.0 282.3,256.1 283.2,257.1 284.2,258.0 285.2,258.8 286.3,259.5 287.5,260.2 288.8,260.7 290.1,261.2 291.3,261.7 292.6,262.1 293.9,262.4 295.1,262.8 296.4,263.2 297.5,263.8 298.6,264.6 299.6,265.5 300.6,266.5 301.5,267.3 302.9,268.1 304.1,267.9 305.1,267.1 305.9,266.0 306.6,264.7 306.9,263.6 307.3,262.3 307.6,260.9 307.9,259.6 308.2,258.4 308.6,257.0 309.2,255.9 309.8,254.7 311.3,254.2 312.2,255.2 312.9,256.2 313.6,257.4 314.1,258.5 314.5,259.7 314.9,260.9 315.3,261.9 315.8,262.9 316.3,263.8 317.5,264.8 318.5,264.1 319.4,263.0 320.3,261.9 321.3,261.1 322.6,260.6 323.9,260.0 324.9,259.3 325.7,258.5 326.5,257.7 327.4,256.7 328.2,255.6 328.8,254.5 329.3,253.5 329.9,252.5 330.7,251.3 331.7,250.6 333.0,251.5 333.8,252.6 334.5,253.9 335.2,255.1 335.8,256.0 336.4,257.1 336.9,258.4 337.7,259.6 338.7,260.6 339.7,261.6 340.5,262.8 341.0,263.8 341.7,265.0 342.9,265.1 343.7,264.1 344.4,262.9 344.9,261.8 345.4,260.8 345.8,259.6 346.2,258.2 346.4,257.1 346.7,255.9 346.9,254.6 347.2,253.2 347.4,251.9 347.6,250.5 347.9,249.2 348.1,248.0 348.4,246.9 348.8,245.2 349.3,243.9 349.7,242.8 350.3,241.7 351.0,240.7 352.2,240.9 352.7,242.1 353.0,243.4 353.4,244.8 353.7,245.9 354.0,247.4 354.4,248.8 354.9,250.2 355.8,251.6 356.9,252.7 357.5,253.8 358.2,255.3 358.6,256.3 359.1,257.5 359.5,258.7 360.0,260.0 360.2,260.5" stroke="#FF00FF"/><path d="M360.2,260.9 360.3,260.5 360.5,261.6 360.6,261.6 360.8,262.7 360.9,263.0 361.1,263.1 361.3,263.6 361.4,263.4 361.6,263.8 361.7,264.9 361.9,265.2 362.0,266.0 362.2,266.1 362.4,266.0 362.5,266.6 362.7,267.5 362.8,267.6 363.0,267.4 363.1,268.8 363.3,269.1 363.5,268.7 363.6,269.6 363.8,269.8 363.9,270.7 364.1,270.5 364.3,270.8 364.4,271.5 364.6,272.5 364.7,271.8 364.9,272.2 365.0,273.2 365.2,273.9 365.4,273.8 365.5,274.1 365.7,275.0 365.8,275.2 366.0,274.7 366.1,276.1 366.3,275.6 366.4,276.0 366.5,277.0 366.8,277.1 367.0,278.0 367.2,277.8 367.4,279.0 367.6,278.7 367.8,279.0 367.9,279.8 368.1,280.0 368.3,280.7 368.5,281.5 368.6,281.6 368.8,281.1 369.0,281.8 369.1,282.4 369.3,282.7 369.5,283.3 369.7,283.3 369.9,283.2 370.1,283.7 370.4,284.8 370.6,284.6 370.9,285.4 371.2,286.0 371.5,286.0 371.8,286.4 372.2,286.6 372.5,286.6 372.8,287.7 373.1,287.4 373.4,288.3 373.7,287.8 374.0,288.8 374.2,289.0 374.7,289.2 374.9,289.3 375.2,289.2 375.4,290.2 375.9,290.2 376.2,290.9 376.6,290.6 376.9,290.8 377.4,291.3 377.6,292.3 377.9,291.8 378.2,292.9 378.5,292.6 378.8,293.1 379.1,293.1 379.5,293.8 379.8,293.4 380.2,294.1 380.5,295.1 380.9,294.5 381.2,295.3 381.5,295.3 381.9,295.5 382.2,295.5 382.5,295.8 382.8,297.2 383.2,297.4 383.4,297.6 383.7,297.9 384.0,298.4 384.4,297.8 384.7,298.6 385.0,298.9 385.3,299.3 385.6,300.0 385.8,300.2 386.1,300.7 386.4,300.0 386.6,301.0 386.9,301.3 387.1,301.7 387.4,301.8 387.7,302.4 387.9,302.1 388.2,303.1 388.5,302.8 388.9,303.4 389.2,304.2 389.5,304.3 389.9,304.2 390.2,304.5 390.6,305.0 390.9,305.7 391.2,306.5 391.6,306.7 391.9,306.3 392.2,306.6 392.7,307.5 393.1,306.7 393.5,306.8 393.8,306.2 394.2,306.3 394.6,306.6 395.0,306.7 395.4,307.0 395.7,307.0 395.9,307.9 396.2,307.9 396.5,307.6 396.8,307.9 397.0,309.3 397.3,309.7 397.6,310.0 397.9,310.0 398.2,310.0 398.6,310.1 398.9,310.7 399.2,310.9 399.5,312.1 399.8,312.4 400.1,312.5 400.5,312.1 400.8,312.5 401.2,312.8 401.5,313.9 401.9,313.2 402.2,314.3 402.6,314.4 402.9,314.5 403.3,315.3 403.7,314.7 404.0,315.3 404.4,315.2 404.7,315.3 405.1,315.5 405.5,316.1 405.8,316.2 406.2,316.3 406.5,317.7 406.9,317.1 407.2,318.1 407.6,318.1 408.0,318.3 408.3,318.5 408.7,319.1 409.0,319.2 409.4,319.3 409.7,319.4 410.1,319.8 410.4,320.1 410.8,320.2 411.1,320.4 411.4,320.2 411.8,321.4 412.1,321.3 412.5,321.1 412.8,321.6 413.1,322.7 413.5,322.4 413.8,322.8 414.1,323.5 414.5,324.0 414.8,323.7 415.1,324.0 415.4,324.4 415.9,324.3 416.4,325.6 416.7,324.4 417.1,325.4 417.4,324.4 417.6,324.0 417.8,324.4 418.1,324.0 418.4,323.0 418.7,323.1 419.1,323.2 419.4,323.8 419.7,323.4 419.9,324.5 420.2,325.0 420.5,325.0 420.9,325.5 421.2,325.3 421.6,324.4 421.9,324.6 422.2,324.2 422.6,323.8 423.0,323.1 423.4,324.1 423.7,324.7 424.0,324.3 424.2,325.0 424.5,325.7 424.8,325.7 425.1,325.4 425.3,326.5 425.6,326.4 425.9,327.5 426.1,327.6 426.4,327.5 426.6,328.5 426.9,328.5 427.3,328.5 427.5,329.4 427.8,329.7 428.1,330.0 428.4,330.3 428.7,330.3 429.0,330.7 429.2,330.9 429.5,331.1 429.7,332.0 430.0,331.6 430.3,331.6 430.5,332.7 430.8,332.8 431.1,333.3 431.4,333.7 431.6,333.7 431.9,334.0 432.2,334.2 432.4,335.4 432.7,335.9 433.0,336.0 433.2,335.6 433.5,337.0 433.8,337.2 434.0,337.2 434.3,336.9 434.6,338.3 434.8,338.3 435.0,338.6 435.2,338.2 435.6,339.5 435.9,338.9 436.3,339.8 436.5,339.4" stroke="#FF00FF" stroke-width="1.9"/>
<path d="M5.8,195.5 6.3,195.8 6.8,196.0 7.5,196.4 7.9,196.1 8.2,196.4 8.6,194.9 9.0,195.7 9.5,196.7 9.9,196.2 10.3,196.7 10.8,195.4 11.3,196.1 11.7,195.8 12.2,196.4 12.7,196.5 13.1,195.6 13.6,196.0 14.1,196.2 14.5,197.5 15.0,197.3 15.4,196.3 15.9,197.5 16.3,196.4 16.7,197.4 17.1,196.6 17.5,196.5 17.9,198.1 18.3,197.1 18.7,197.2 19.1,198.7 19.5,198.6 20.0,197.6 20.4,199.0 20.8,198.3 21.2,198.7 21.6,198.0 22.0,199.4 22.5,199.1 22.9,199.7 23.3,199.7 23.7,198.7 24.1,199.0 24.5,198.7 24.9,198.8 25.3,198.8 25.7,199.3 26.1,200.0 26.5,199.0 26.9,200.3 27.2,199.8 27.6,199.9 28.1,200.9 28.5,200.4 28.9,200.3 29.4,200.7 29.8,201.3 30.2,200.2 30.6,202.0 31.0,200.5 31.4,201.9 31.8,202.2 32.2,200.9 32.6,202.4 33.0,201.7 33.4,202.2 33.8,201.3 34.2,201.5 34.6,201.8 35.0,203.3 35.4,202.0 35.8,203.1 36.2,203.4 36.6,203.5 37.0,202.4 37.4,202.5 37.8,202.7 38.3,203.2 38.7,201.9 39.1,203.0 39.5,203.0 40.0,203.1 40.4,201.5 40.8,203.1 41.2,201.4 41.7,201.8 42.1,202.2 42.5,202.6 42.9,201.5 43.3,202.5 43.7,201.7 44.1,201.2 44.5,201.2 44.9,200.9 45.2,200.7 45.6,200.8 46.1,201.7 46.5,202.3 47.0,200.8 47.4,200.6 47.8,202.3 48.2,201.6 48.6,201.4 49.0,201.1 49.4,201.8 49.8,202.3 50.2,201.7 50.6,201.7 51.0,201.2 51.5,202.8 51.9,201.3 52.4,202.2 52.8,202.9 53.1,201.6 53.5,202.8 53.9,203.2 54.3,202.7 54.6,203.1 55.0,201.9 55.4,202.6 55.8,202.1 56.2,203.4 56.6,202.5 57.0,202.9 57.4,203.9 57.9,203.8 58.3,204.1 58.7,203.2 59.2,203.4 59.6,203.9 60.0,203.5 60.5,203.3 60.9,203.6 61.4,203.3 61.8,203.8 62.1,204.5" stroke="#8000F0" stroke-width="2.0"/><path d="M62.1,204.5 62.5,204.3 62.9,204.3 63.3,204.2 63.7,204.1 64.1,204.4 64.5,204.9 64.9,205.1 65.3,204.8 65.7,205.2 66.1,205.4 66.5,205.4 66.9,205.5 67.3,205.7 67.7,205.5 68.2,205.9 68.6,205.7 69.0,206.0 69.4,206.3 69.8,206.4 70.2,206.2 70.7,206.9 71.1,206.8 71.5,206.8 71.9,206.5 72.3,207.1 72.7,207.0 73.1,207.5 73.5,207.4 73.8,207.9 74.2,207.9 74.6,208.1 75.0,207.9 75.3,208.3 75.7,208.5 76.1,208.8 76.5,208.5 76.8,209.1 77.2,209.3 77.6,209.3 78.0,209.7 78.3,209.8 78.7,209.6 79.1,209.8 79.5,209.7 79.9,210.4 80.2,210.3" stroke="#8000F0" stroke-width="1.9"/><path d="M80.2,210.3 81.4,210.7 82.5,211.2 83.6,211.7 84.8,212.1 86.0,212.6 87.3,213.0 88.5,213.4 89.8,213.9 91.0,214.3 92.2,214.7 93.4,215.1 94.6,215.5 95.8,215.9 97.1,216.3 98.4,216.7 99.7,217.1 100.9,217.5 102.1,217.9 103.2,218.2 104.3,218.5 105.7,218.9 107.1,219.2 108.4,219.5 109.5,219.8 111.2,220.0 112.3,220.0 113.4,219.7 114.9,219.5 116.2,219.0 117.0,217.9 117.5,216.9 118.1,216.0 118.8,214.9 119.6,214.0 120.7,213.2 121.8,212.8 123.0,212.2 124.4,211.5 125.7,211.5 126.9,212.3 128.1,213.2 129.3,213.5 130.5,213.5 131.8,213.6 132.8,214.1 133.5,214.9 134.2,216.0 134.9,217.1 135.5,218.3 136.0,219.6 136.5,220.9 137.1,222.1 137.9,223.2 138.7,224.0 139.6,224.7 140.6,225.4 141.7,226.1 142.7,226.7 143.8,227.2 144.8,227.8 146.0,228.3 147.2,228.9 148.5,229.5 149.6,230.0 150.6,230.5 151.7,231.0 152.9,231.5 154.0,232.0 155.2,232.5 156.4,233.0 157.5,233.4 158.6,233.9 159.8,234.4 160.9,234.8 162.0,235.2 163.1,235.7 164.3,236.1 165.4,236.5 166.5,236.9 167.7,237.3 169.0,237.7 170.2,238.1 171.5,238.4 172.7,238.8 173.9,239.2 175.2,239.5 176.4,239.9 177.6,240.3 178.9,240.7 180.1,241.1 181.3,241.5 182.5,241.9 183.8,242.3 185.0,242.7 186.2,243.1 187.5,243.5 188.8,243.9 190.1,244.3 191.3,244.7 192.5,245.1 193.6,245.4 194.9,245.8 196.2,246.1 197.5,246.4 198.7,246.7 199.9,247.0 201.2,247.3 202.3,247.6 203.5,247.9 204.7,248.2 205.9,248.5 207.1,248.8 208.3,249.0 209.6,249.2 211.0,249.4 212.3,249.5 213.7,249.5 215.0,249.5 216.2,249.4 217.5,249.3 218.9,249.1 220.1,248.8 221.2,248.3 222.2,247.7 223.0,246.8 223.7,245.7 224.2,244.5 224.7,243.3 225.1,242.1 225.5,240.9 225.7,239.6 225.9,238.4 226.2,237.0 226.5,235.8 226.8,234.7 227.4,233.7 227.9,234.8 228.1,235.9 228.4,237.0 228.6,238.0 228.9,239.2 229.1,240.5 229.4,241.8 229.6,243.0 229.9,244.4 230.1,245.7 230.5,247.0 230.9,248.2 231.3,249.4 231.8,250.7 232.3,251.9 232.9,252.9 233.7,254.1 234.9,255.3 236.0,256.1 237.4,257.0 238.3,257.6 239.3,258.3 240.4,259.0 241.6,259.7 242.8,260.4 244.0,261.1 245.1,261.7 246.2,262.4 247.3,262.9 248.4,263.5 249.7,264.1 250.9,264.7 252.0,265.2 253.1,265.7 254.2,266.1 255.3,266.5 256.3,266.9 257.6,267.4 259.0,267.9 260.4,268.3 261.6,268.6 262.7,268.7 264.2,268.5 265.1,267.7 265.9,266.8 266.6,265.7 267.2,264.6 267.7,263.3 268.1,262.0 268.5,260.7 269.0,259.7 269.6,258.7 270.4,257.7 271.7,257.7 272.4,259.0 272.9,260.4 273.4,261.6 273.8,262.6 274.2,263.9 274.6,265.2 275.1,266.6 275.6,267.9 276.2,269.0 277.0,269.9 278.0,270.6 279.0,271.1 280.2,271.6 281.4,272.1 282.4,272.6 283.5,273.1 284.7,273.5 285.9,274.0 287.0,274.5 288.2,274.9 289.5,275.4 290.8,275.8 292.1,276.2 293.4,276.6 294.6,277.1 295.9,277.6 297.2,278.2 298.4,278.8 299.6,279.2 301.0,279.3 302.1,278.6 303.1,277.6 304.0,276.6 305.0,275.6 306.0,274.6 307.0,274.1 308.3,274.7 309.3,275.7 310.3,276.8 311.3,277.9 312.4,278.5 313.7,278.6 314.9,278.4 316.1,278.1 317.4,277.6 318.7,277.2 320.0,277.3 321.3,277.6 322.7,277.7 323.9,277.4 325.0,276.7 326.1,275.9 327.2,275.3 328.4,275.2 329.6,275.8 330.5,276.6 331.5,277.6 332.4,278.6 333.4,279.5 334.3,280.4 335.3,281.2 336.4,282.2 337.4,283.1 338.4,283.8 339.9,284.5 341.1,284.3 342.1,283.5 342.9,282.4 343.6,281.1 344.1,280.0 344.6,278.7 345.0,277.4 345.5,276.0 345.9,274.9 346.6,273.6 347.2,272.5 347.8,271.6 349.3,271.0 350.3,272.2 351.0,273.4 351.7,274.8 352.3,276.1 353.0,277.4 353.7,278.6 354.3,279.8 355.0,281.0 355.6,282.2 356.2,283.3 356.8,284.4 357.4,285.6 357.8,286.7 358.4,287.9 358.9,289.0 359.5,290.3 360.0,291.3" stroke="#8000F0"/><path d="M360.0,291.3 360.2,291.9 360.4,292.4 360.6,292.8 360.8,292.5 360.9,293.6 361.1,293.8 361.3,294.3 361.5,294.4 361.7,295.0 361.9,295.6 362.1,295.9 362.4,296.4 362.6,295.9 362.8,296.5 363.0,297.2 363.2,297.9 363.4,297.8 363.6,298.7 363.8,299.0 364.0,298.7 364.2,299.6 364.4,299.6 364.6,299.8 364.8,300.3 365.0,300.9 365.3,301.2 365.5,301.6 365.7,301.8 365.9,302.7 366.1,303.0 366.3,303.6 366.6,304.0 366.8,304.0 367.0,305.1 367.2,304.4 367.5,305.3 367.7,305.5 367.9,306.0 368.1,306.0 368.3,307.2 368.6,306.9 368.8,306.8 369.0,307.8 369.3,307.6 369.6,308.6 369.9,308.7 370.3,309.3 370.6,310.1 370.9,310.3 371.2,310.1 371.5,310.9 371.9,310.9 372.2,310.9 372.5,310.9 372.8,311.7 373.1,312.0 373.4,312.7 373.8,313.0 374.1,312.9 374.4,312.8 374.7,313.8 375.0,313.0 375.3,313.4 375.7,314.3 376.0,314.6 376.3,314.3 376.6,315.2 376.9,315.8 377.3,315.5 377.6,315.8 377.9,315.8 378.2,316.2 378.5,317.3 378.8,316.9 379.1,317.8 379.4,318.1 379.7,318.0 380.0,317.8 380.3,319.0 380.6,318.7 380.9,318.9 381.2,319.2 381.5,320.3 381.8,320.0 382.1,320.1 382.4,320.7 382.7,320.6 383.0,321.5 383.2,321.7 383.5,321.8 383.8,322.7 384.0,323.0 384.3,322.4 384.5,323.3 384.8,323.2 385.1,324.3 385.3,324.4 385.6,324.0 385.9,324.4 386.3,324.6 386.6,325.9 387.0,325.4 387.3,326.1 387.6,326.2 387.9,326.7 388.2,326.9 388.5,327.3 388.7,326.8 389.0,327.8 389.4,327.5 389.7,328.1 390.1,328.1 390.5,328.3 390.8,328.6 391.2,328.6 391.6,328.6 391.9,329.0 392.4,329.0 392.8,328.4 393.1,328.8 393.5,329.3 393.8,330.0 394.3,330.3 394.8,330.4 395.1,330.0 395.3,331.2 395.6,331.1 395.9,331.5 396.2,332.0 396.5,332.2 396.8,332.4 397.1,333.2 397.4,332.9 397.7,333.2 398.0,334.1 398.3,333.6 398.6,334.1 398.9,335.0 399.2,334.4 399.5,335.6 399.8,335.8 400.1,335.8 400.4,335.9 400.7,336.8 401.1,337.3 401.4,336.7 401.7,337.4 402.0,337.8 402.3,338.1 402.6,338.2 402.9,338.3 403.2,339.1 403.5,339.7 403.9,339.2 404.2,339.7 404.5,340.7 404.8,340.9 405.1,341.1 405.4,340.6 405.7,341.8 406.0,342.4 406.3,342.7 406.6,342.6 407.0,342.1 407.3,343.3 407.6,342.9 407.9,343.6 408.2,344.3 408.5,344.3 408.8,343.9 409.1,344.3 409.5,345.4 409.8,344.7 410.1,345.6 410.5,345.6 410.8,345.6 411.1,346.4 411.4,346.0 411.8,346.3 412.1,346.9 412.4,346.8 412.8,347.1 413.1,348.0 413.5,348.5 413.8,348.9 414.1,348.3 414.5,348.9 414.8,349.0 415.2,349.7 415.5,349.8 415.9,350.6 416.2,350.2 416.5,350.0 416.9,351.1 417.2,350.6 417.5,351.5 417.9,351.6 418.3,352.4 418.6,352.2 419.0,352.5 419.3,352.4 419.7,353.0 420.0,352.9 420.3,353.7 420.7,353.6 421.0,353.4 421.4,353.8 421.7,354.2 422.1,354.8 422.4,354.4 422.8,355.2 423.2,355.4 423.6,354.9 423.9,355.8 424.3,355.3 424.6,355.5 425.0,356.2 425.4,356.0 425.8,356.9 426.2,356.6 426.6,356.6 426.9,357.3 427.3,356.6 427.7,357.6 428.1,356.9 428.5,357.2 428.9,358.3 429.3,358.1 429.6,357.7 430.0,357.7 430.4,358.9 430.9,358.7 431.3,359.0 431.8,358.4 432.3,359.1 432.7,358.9 433.2,358.9 433.7,359.2 434.1,359.7 434.6,359.5 434.9,359.6 435.3,359.4 436.0,360.4 436.5,360.4" stroke="#8000F0" stroke-width="1.9"/>
<path d="M5.8,225.8 6.3,226.0 6.8,225.5 7.5,225.3 7.9,224.9 8.2,226.2 8.6,226.0 9.0,226.6 9.5,226.0 9.9,226.8 10.3,226.1 10.8,227.1 11.3,227.1 11.7,226.7 12.2,227.0 12.7,227.4 13.1,226.6 13.6,227.4 14.1,228.0 14.5,227.1 15.0,228.2 15.4,228.1 15.9,228.5 16.3,227.7 16.7,227.4 17.1,228.7 17.5,228.8 17.9,228.3 18.3,227.8 18.7,228.1 19.1,228.9 19.5,228.4 19.9,229.7 20.3,229.2 20.7,228.6 21.1,229.5 21.5,229.1 21.9,230.2 22.3,230.3 22.7,229.6 23.1,230.0 23.5,230.2 23.9,230.5 24.3,230.9 24.8,229.3 25.2,230.0 25.6,230.5 26.0,230.1 26.4,230.7 26.8,229.9 27.2,231.4 27.6,230.8 28.0,230.2 28.4,231.3 28.8,230.8 29.2,230.6 29.6,231.3 30.0,230.7 30.4,231.0 30.8,232.2 31.2,232.0 31.6,230.9 32.0,232.4 32.4,231.1 32.9,231.8 33.3,232.9 33.7,232.5 34.1,232.0 34.5,232.2 34.9,232.3 35.3,231.9 35.7,233.6 36.1,232.0 36.5,232.7 36.9,233.4 37.3,232.8 37.7,234.0 38.1,232.7 38.5,234.1 38.9,234.0 39.3,233.7 39.7,234.1 40.1,233.4 40.6,234.2 41.0,234.2 41.4,233.7 41.8,233.7 42.3,234.2 42.7,233.7 43.1,233.2 43.6,234.4 44.0,233.6 44.4,234.1 44.9,234.6 45.3,233.6 45.7,233.4 46.1,233.6 46.5,234.4 46.9,234.1 47.3,233.9 47.7,234.3 48.1,235.2 48.4,234.0 48.8,234.3 49.5,235.1 50.1,234.6 50.5,233.9 50.8,234.3 51.2,234.2 51.6,233.5 52.1,233.8 52.4,233.5 52.8,234.2 53.2,233.2 53.5,233.6 53.8,234.0 54.2,233.7 54.5,232.6 54.9,232.9 55.4,232.3 55.8,232.3 56.2,232.5 56.6,233.0 57.0,233.2 57.4,232.1 57.8,231.6 58.2,232.4 58.7,231.7 59.1,231.7 59.5,233.1 60.0,232.0 60.4,233.1 60.9,232.5 61.4,233.6 61.8,233.5 62.3,232.6" stroke="#F00000" stroke-width="2.0"/><path d="M62.3,232.7 62.8,233.3 63.2,233.1 63.7,233.0 64.1,233.4 64.5,233.4 64.9,233.2 65.2,233.3 65.6,233.0 66.0,233.3 66.4,233.1 66.8,233.6 67.2,233.6 67.6,233.3 68.0,233.7 68.4,233.4 68.8,233.4 69.2,233.9 69.6,233.8 70.0,234.3 70.5,234.1 70.9,234.2 71.4,233.9 71.8,234.5 72.2,234.0 72.7,234.5 73.1,234.8 73.4,234.9 73.8,234.9 74.2,234.6 74.6,234.9 75.0,235.1 75.4,234.6 75.8,235.3 76.2,235.4 76.6,235.1 77.0,235.5 77.4,235.3 77.8,235.2 78.2,235.7 78.6,235.2 79.0,235.9 79.5,236.2 79.9,235.7 80.3,236.0" stroke="#F00000" stroke-width="1.9"/><path d="M80.3,236.0 81.5,236.3 82.8,236.6 84.0,237.0 85.1,237.4 86.3,237.8 87.4,238.2 88.5,238.7 89.7,239.2 90.8,239.7 91.9,240.1 93.0,240.6 94.2,241.1 95.3,241.5 96.5,241.9 97.8,242.4 99.0,242.8 100.3,243.2 101.5,243.6 102.8,244.0 104.0,244.4 105.1,244.8 106.2,245.1 107.6,245.5 108.9,245.8 110.2,246.2 111.5,246.5 112.7,246.7 113.9,247.0 115.0,247.2 116.4,247.5 117.8,247.8 119.1,248.0 120.3,248.1 121.4,248.1 122.6,247.7 123.7,246.9 124.7,246.0 125.5,245.1 126.3,244.3 127.1,243.4 127.9,242.5 128.8,242.0 129.9,241.5 131.3,241.1 132.6,240.8 133.8,240.7 135.2,241.0 136.4,241.9 137.6,242.7 139.1,242.6 140.6,242.4 142.0,243.2 142.6,244.2 143.2,245.4 143.8,246.6 144.3,247.7 145.0,249.0 145.7,250.1 146.6,250.9 147.7,251.7 148.7,252.4 149.8,253.1 150.9,253.8 152.1,254.4 153.2,255.1 154.3,255.8 155.4,256.4 156.5,257.1 157.6,257.7 158.7,258.3 159.8,258.8 161.0,259.4 162.2,259.8 163.4,260.1 164.6,260.5 165.8,260.8 166.9,261.1 168.3,261.5 169.4,261.8 170.7,262.1 172.0,262.5 173.1,262.7 174.2,263.0 175.4,263.3 176.7,263.6 178.0,264.0 179.3,264.3 180.6,264.6 181.9,265.0 183.1,265.3 184.4,265.7 185.6,266.1 186.9,266.5 188.2,266.9 189.5,267.3 190.7,267.6 191.9,268.0 193.0,268.3 194.4,268.6 195.6,268.8 197.1,269.0 198.4,269.1 199.6,269.1 201.2,269.0 202.5,268.6 203.7,269.2 204.7,269.8 205.6,270.4 206.6,271.0 207.8,271.7 209.1,272.4 210.4,272.9 211.6,273.3 212.8,273.5 214.0,273.8 215.3,273.9 216.5,274.1 217.7,274.3 218.8,274.4 220.2,274.6 221.4,274.9 222.6,275.1 223.7,275.1 225.0,275.0 226.3,274.7 227.7,274.2 228.8,273.6 229.9,272.8 230.7,271.7 231.3,270.4 232.0,269.1 232.5,268.1 233.5,267.0 234.3,268.1 234.8,269.5 235.3,270.7 235.7,271.8 236.1,272.9 236.7,274.1 237.2,275.2 237.8,276.3 238.5,277.4 239.4,278.5 240.2,279.4 241.1,280.2 242.1,280.9 243.2,281.6 244.3,282.4 245.5,283.1 246.7,283.8 247.9,284.4 248.9,284.8 250.0,285.3 251.2,285.8 252.4,286.2 253.5,286.7 254.7,287.1 255.9,287.5 257.1,287.9 258.2,288.3 259.3,288.6 260.7,289.0 262.0,289.4 263.3,289.8 264.6,290.1 265.8,290.4 266.9,290.6 268.5,290.6 269.9,290.1 270.9,289.2 271.7,288.0 272.4,287.0 273.0,286.1 273.5,285.1 274.1,283.9 274.8,282.8 275.8,282.2 276.5,283.2 277.0,284.3 277.5,285.4 278.1,286.7 278.9,287.8 279.7,288.8 280.7,289.7 282.0,290.4 283.0,290.9 284.1,291.4 285.4,291.8 286.6,292.3 287.8,292.8 289.0,293.2 290.1,293.6 291.2,294.0 292.4,294.3 293.5,294.7 294.6,295.2 295.8,295.6 297.0,296.2 298.2,296.7 299.3,297.3 300.4,297.9 301.7,298.5 302.8,299.1 304.0,299.9 305.1,300.2 306.2,299.6 307.3,298.6 308.3,297.7 309.3,296.8 310.4,296.3 311.6,296.8 312.6,297.6 313.5,298.6 314.6,299.4 315.7,299.7 316.8,299.7 318.0,299.5 319.3,299.2 320.5,299.1 321.7,299.3 322.9,299.8 324.1,300.4 325.3,301.0 326.6,301.4 327.9,301.6 329.2,301.6 330.6,301.6 331.9,301.7 333.0,301.8 334.4,302.3 335.5,303.0 336.5,303.8 337.8,304.5 338.9,305.3 340.2,306.2 341.5,306.9 342.7,307.1 344.0,306.6 344.9,305.7 345.7,304.5 346.5,303.3 347.3,302.3 348.2,301.5 349.0,300.7 350.0,299.9 351.2,299.5 352.6,300.0 353.4,301.1 354.1,302.2 354.8,303.5 355.3,304.4 355.9,305.6 356.5,306.7 357.1,308.0 357.7,309.2 358.3,310.4 358.9,311.6 359.5,312.7 360.0,313.9" stroke="#F00000"/><path d="M360.0,313.4 360.2,314.7 360.4,314.4 360.6,315.6 360.8,315.3 361.0,316.3 361.2,315.6 361.3,316.0 361.5,317.3 361.7,317.4 361.9,317.7 362.1,317.5 362.3,318.0 362.5,318.6 362.7,318.6 362.8,320.0 363.0,320.1 363.2,320.7 363.4,320.7 363.6,320.7 363.8,320.8 364.1,322.0 364.3,321.6 364.5,322.5 364.7,322.8 364.9,323.2 365.1,323.1 365.4,323.5 365.6,324.4 365.8,324.1 366.0,325.1 366.2,325.0 366.5,325.5 366.7,325.7 366.9,326.6 367.2,326.7 367.4,326.9 367.7,327.2 367.9,328.0 368.1,328.7 368.4,328.5 368.6,328.5 368.8,329.0 369.1,329.2 369.3,329.9 369.6,330.5 369.9,330.6 370.1,330.5 370.4,331.0 370.6,331.3 370.9,331.7 371.1,332.0 371.4,333.0 371.7,332.8 371.9,333.2 372.2,333.6 372.5,333.8 372.7,334.3 373.0,334.0 373.2,334.6 373.5,335.3 373.8,334.6 374.1,335.5 374.4,335.4 374.8,335.3 375.1,335.6 375.4,336.7 375.7,336.2 376.0,337.1 376.4,336.6 376.7,337.2 377.0,337.0 377.3,337.8 377.6,338.4 377.9,337.9 378.3,338.6 378.6,339.2 378.9,338.7 379.2,339.2 379.6,339.7 379.9,340.2 380.3,339.6 380.6,340.5 381.0,340.1 381.3,340.4 381.7,341.7 382.0,340.9 382.3,342.2 382.7,342.3 383.0,342.4 383.4,342.8 383.7,343.0 384.1,342.8 384.4,343.3 384.8,343.3 385.1,344.4 385.4,344.6 385.7,344.9 386.1,344.5 386.4,345.3 386.7,345.2 387.0,346.1 387.3,346.4 387.7,347.0 388.0,346.9 388.3,347.2 388.6,347.6 388.9,347.1 389.2,348.0 389.6,347.6 389.9,348.3 390.2,348.3 390.5,349.5 390.9,348.7 391.2,350.0 391.6,350.3 391.9,350.0 392.3,350.7 392.6,350.0 393.0,350.3 393.3,350.3 393.7,350.6 394.0,350.8 394.4,352.0 394.7,351.3 395.1,352.2 395.4,352.1 395.8,352.2 396.1,352.8 396.4,352.8 396.7,354.0 397.1,353.6 397.4,354.2 397.7,354.5 398.1,354.9 398.4,355.1 398.8,355.2 399.1,355.4 399.4,356.6 399.8,356.1 400.1,356.8 400.4,357.5 400.7,357.5 401.0,358.3 401.2,358.4 401.7,358.5 402.0,358.3 402.3,359.2 402.6,359.4 402.9,360.1 403.2,359.9 403.5,360.4 403.7,360.7 404.0,360.6 404.3,361.3 404.5,361.6 404.8,361.0 405.1,362.2 405.4,362.5 405.7,362.8 406.0,362.5 406.3,362.8 406.6,362.9 407.0,363.5 407.3,364.4 407.7,364.1 408.1,363.9 408.5,364.5 408.9,364.3 409.2,365.1 409.6,365.4 410.0,365.7 410.5,364.8 410.9,365.2 411.3,364.9 411.8,365.9 412.2,365.9 412.6,365.5 413.1,366.1 413.5,365.6 414.0,365.9 414.4,365.6 414.9,365.6 415.3,366.4 415.7,366.3 416.2,366.1 416.6,366.5 417.0,366.3 417.4,366.6 417.9,365.8 418.3,366.0 418.7,366.1 419.1,366.8 419.6,367.0 420.0,366.4 420.4,366.9 420.8,366.6 421.3,367.3 421.7,367.5 422.1,366.8 422.5,368.0 422.9,367.7 423.3,367.1 423.8,367.5 424.2,367.4 424.6,368.2 425.0,368.5 425.4,367.7 425.8,367.8 426.2,368.4 426.6,368.8 427.1,368.7 427.5,368.4 427.9,368.1 428.4,368.7 428.8,368.5 429.2,369.0 429.7,368.7 430.1,368.9 430.6,369.2 431.1,368.7 431.6,369.1 432.1,368.3 432.6,367.9 433.1,368.9 433.6,367.9 434.0,369.0 434.5,368.3 434.9,367.8 435.3,368.0 436.0,368.5 436.5,368.1" stroke="#F00000" stroke-width="1.9"/>
<path d="M5.8,259.0 6.3,258.7 6.8,259.7 7.5,258.8 7.9,259.7 8.2,259.4 8.6,258.9 9.0,259.8 9.5,259.0 9.9,259.8 10.3,259.2 10.8,259.3 11.3,260.0 11.7,260.8 12.2,259.6 12.7,259.8 13.1,260.6 13.6,261.3 14.1,260.7 14.5,260.5 15.0,261.6 15.4,260.0 15.9,261.6 16.3,260.6 16.7,260.4 17.1,260.5 17.5,260.9 17.9,261.9 18.3,260.9 18.7,261.7 19.1,261.9 19.5,261.5 19.9,261.9 20.3,261.2 20.7,261.3 21.1,261.7 21.5,262.6 21.9,262.3 22.3,262.2 22.7,262.8 23.1,262.6 23.5,262.5 23.9,263.5 24.3,263.4 24.8,262.7 25.2,263.4 25.6,263.4 26.0,264.1 26.4,264.0 26.8,263.2 27.2,264.6 27.6,263.1 28.0,263.7 28.4,264.4 28.8,263.4 29.2,264.1 29.6,263.4 30.1,264.6 30.5,264.8 30.9,264.5 31.3,265.2 31.7,264.2 32.1,265.0 32.6,264.9 33.0,264.9 33.4,264.8 33.8,265.5 34.2,265.8 34.6,265.0 35.0,265.4 35.4,264.3 35.8,265.5 36.2,265.5 36.6,266.2 37.0,265.9 37.4,265.0 37.8,265.2 38.2,265.7 38.5,264.6 38.9,265.4 39.4,264.9 39.8,264.9 40.3,264.8 40.7,266.1 41.1,265.0 41.6,265.2 42.0,265.5 42.4,266.4 42.9,265.0 43.3,265.7 43.7,265.8 44.1,266.4 44.5,266.3 44.9,266.4 45.3,265.3 45.7,265.5 46.0,265.4 46.4,266.3 46.8,266.4 47.2,264.9 47.5,264.9 47.9,264.9 48.3,264.8 48.7,265.1 49.1,265.2 49.5,264.4 49.9,263.8 50.2,264.4 50.6,264.1 51.0,264.2 51.3,264.7 51.6,264.0 52.0,263.5 52.4,263.5 52.7,263.4 53.1,262.1 53.5,263.4 53.9,263.1 54.3,263.1 54.7,262.8 55.1,262.0 55.4,262.0 55.8,261.4 56.2,262.2 56.6,261.2 56.9,261.1 57.3,261.3 57.7,261.2 58.1,261.5 58.5,260.9 58.9,260.8 59.3,261.1 59.7,261.0 60.2,261.4 60.6,260.8 61.0,262.3 61.5,261.8 61.9,261.0 62.3,261.1 62.8,261.3 63.2,261.3 63.7,260.8 64.1,262.1 64.4,262.3 64.8,261.4 65.2,261.4 65.6,260.7 66.1,260.7 66.5,261.1 66.9,260.9 67.3,261.9 67.8,260.7 68.2,260.5 68.6,262.1 69.1,261.3 69.5,260.6 69.9,261.3 70.4,260.4 70.8,261.3 71.2,262.1 71.6,261.9 72.0,261.6 72.4,260.8 72.8,261.0 73.2,260.6 73.6,261.7 74.0,261.3 74.3,261.7 75.0,260.9 75.5,260.7 76.0,261.8 76.5,262.1 76.9,261.8 77.3,261.7 77.7,261.7 78.1,261.6 78.5,260.7 78.9,261.2 79.2,260.9 79.6,260.4 80.0,260.4 80.4,261.1" stroke="#0000CC" stroke-width="2.0"/><path d="M80.4,261.1 80.8,261.5 81.2,261.8 81.7,261.5 82.1,261.9 82.4,262.0 82.8,262.1 83.2,261.7 83.6,261.7 83.9,261.8 84.3,261.9 84.7,262.0 85.1,262.4 85.6,262.8 86.0,262.9 86.4,262.7 86.8,263.0 87.2,263.2 87.7,262.8 88.1,263.4 88.5,263.7 89.0,263.7 89.4,263.8 89.9,263.7 90.3,263.6 90.8,264.2 91.2,264.0 91.5,264.4 91.9,264.7 92.3,264.3 92.7,264.4 93.0,265.0 93.4,264.9 93.8,264.5 94.2,264.6 94.6,264.7 95.0,265.4 95.4,265.5 95.8,265.0 96.2,265.7 96.6,265.9 97.0,265.8 97.4,265.6 97.9,265.9 98.3,265.7 98.7,265.7 99.1,266.5 99.5,266.4 100.0,266.4 100.4,266.8 100.8,266.5 101.2,267.0 101.7,267.1 102.1,266.7 102.5,266.8 102.9,266.9 103.3,267.0 103.7,267.3 104.1,267.2 104.5,267.4 104.9,267.3 105.3,268.0 105.8,267.6 106.2,267.8 106.6,268.0 107.0,268.4 107.5,268.1 107.9,268.6 108.3,268.3 108.8,268.5 109.2,268.5 109.6,268.2 110.0,268.7 110.5,268.6 110.9,268.5 111.3,269.2 111.7,268.8 112.1,269.1 112.5,269.4 112.9,269.4 113.2,269.3 113.6,269.5 114.0,269.6 114.3,269.9 115.0,269.5 115.5,270.0 116.0,269.8 116.5,270.0 116.9,270.5 117.4,270.4 117.8,270.6 118.2,270.8 118.6,271.1 119.0,270.8 119.4,271.1 119.8,271.1 120.1,271.2 120.5,271.4 120.9,271.3 121.5,271.4 122.2,271.4 122.9,271.8 123.4,271.5 123.8,271.5 124.3,271.4 124.7,270.6 125.1,270.7 125.5,270.7 125.9,270.4 126.3,269.5 126.6,269.3 127.0,269.3 127.4,268.7 127.7,268.6 128.1,268.3 128.5,268.6 128.9,268.6 129.4,268.5 129.8,267.8 130.2,268.1 130.6,267.9 131.0,267.4 131.4,267.9 131.8,267.9 132.3,267.3 132.7,267.9 133.1,267.5 133.6,267.6 134.0,268.1 134.3,268.0 134.7,267.6 135.1,267.9 135.6,268.2 136.0,268.2 136.4,268.2 136.8,268.5 137.2,269.0 137.6,268.7 138.0,269.3 138.4,269.4 138.8,269.3 139.2,269.7 139.5,270.1 139.8,270.2 140.2,270.1 140.6,271.1 141.0,271.3 141.3,271.7 141.6,271.3 141.9,271.7 142.2,271.8 142.5,272.7 142.8,272.6 143.2,272.8 143.5,273.3 143.9,274.0 144.2,274.2 144.5,274.0 144.9,274.2 145.2,275.1 145.6,275.1 146.0,275.5 146.4,275.3 146.8,275.5 147.3,276.3 147.7,276.3 148.0,276.2 148.3,277.1 148.6,277.0 149.0,277.3 149.3,276.9 149.6,277.6 150.0,277.1 150.3,277.9 150.7,277.7 151.0,277.8 151.4,278.1 151.8,278.6 152.2,278.2 152.6,278.3 153.1,278.8 153.5,278.7 154.0,278.8 154.5,279.0 155.1,279.2 155.5,279.5 155.8,279.7 156.1,279.8 156.5,280.3 156.8,280.1 157.2,280.4 157.6,280.3 157.9,280.6 158.3,280.5 158.7,280.8 159.1,280.8 159.5,281.5 159.9,281.5 160.3,281.4 160.7,281.8 161.1,282.3 161.5,281.8 161.9,282.5 162.3,282.4 162.7,282.6 163.1,283.0 163.5,282.8 163.9,283.1 164.3,283.4 164.6,283.8 165.0,283.4 165.4,283.9 165.8,284.0 166.2,284.1 166.6,284.0 167.0,284.1 167.4,284.0 167.8,284.2 168.2,284.3 168.6,285.0 169.0,284.8 169.4,284.9 169.8,284.9 170.2,285.7 170.6,285.8 171.0,285.8 171.5,285.7 171.9,285.8 172.3,285.9 172.7,286.2 173.1,286.1 173.5,286.5 173.9,286.5 174.3,287.2 174.7,287.3 175.1,287.1 175.5,287.0 175.9,287.7 176.3,287.3 176.7,287.5 177.1,287.3 177.5,287.7 177.9,287.9 178.3,288.1 178.7,288.0 179.1,288.3 179.6,288.1 180.0,288.4 180.4,288.4 180.8,288.8 181.2,288.6 181.6,288.7 182.1,289.1 182.5,289.1 182.9,289.5 183.3,289.6 183.7,289.9 184.1,290.0 184.5,290.1 184.9,290.4 185.3,290.1 185.7,290.1 186.1,290.8 186.5,290.2 186.9,290.7 187.3,290.8 187.7,290.4 188.0,291.1 188.4,291.2 188.9,291.1 189.3,291.3 189.8,291.4 190.3,291.0 190.7,291.4 191.2,291.4 191.7,291.7 192.1,291.8 192.6,291.9 193.0,291.7 193.5,292.0 193.9,291.9 194.3,292.0 194.7,291.6 195.1,291.5 195.5,291.6 195.9,291.8 196.2,291.6 196.8,292.3 197.4,292.0 197.8,292.0 198.2,292.0 198.5,292.0 198.9,291.8 199.2,291.0 199.5,291.2 199.7,290.8 200.0,290.2 200.1,289.9 200.2,289.6 200.4,288.8 200.5,289.0 200.7,288.3 200.8,287.8 201.3,287.5 201.9,288.2 202.2,288.2 202.5,289.0 202.7,289.5 202.9,289.4 203.1,289.6 203.3,289.9 203.6,290.3 204.0,290.2 204.4,289.9 204.9,289.7 205.3,289.1 205.8,289.5 206.0,289.9 206.3,290.5 206.6,290.5 206.9,291.1 207.1,291.0 207.4,291.5 207.7,292.0 208.0,292.6 208.2,293.0 208.5,293.3 208.7,293.3 208.9,293.9 209.1,294.2 209.4,294.5 209.7,294.6 210.0,295.5 210.3,295.2 210.6,296.0 210.9,296.1 211.5,295.7 211.8,296.1 212.2,296.5 212.6,296.8 213.0,296.5 213.4,296.4 213.8,296.5 214.2,297.2 214.6,296.7 215.1,297.1 215.5,296.8 216.0,297.2 216.4,297.7 216.8,297.1 217.2,297.7 217.7,297.6 218.1,298.0 218.4,298.0 218.8,297.7 219.2,298.4 219.6,298.2 220.0,297.9 220.4,298.1 220.8,298.6 221.1,298.7 221.5,298.8 221.8,298.8 222.2,299.1 222.5,299.2 222.9,299.8 223.3,299.3 223.7,300.0 224.1,300.2 224.6,299.8 225.0,300.5 225.3,300.5 225.7,300.7 226.0,300.3 226.4,300.4 226.8,300.5 227.1,301.0 227.5,300.8 227.9,300.6 228.3,300.7 228.6,300.7 229.0,300.6 229.4,300.7 229.9,301.3 230.3,300.9 230.7,301.5 231.1,301.1 231.6,301.2 232.0,301.4 232.5,301.3 233.0,301.5 233.5,302.1 234.0,302.2 234.3,302.2 234.7,302.2 235.0,302.5 235.4,302.7 235.8,302.5 236.2,302.7 236.5,302.3 236.9,303.0 237.3,302.9 237.7,303.3 238.1,303.3 238.6,303.2 239.0,303.1 239.4,303.9 239.8,303.5 240.2,303.9 240.7,303.9 241.1,304.0 241.5,304.5 241.9,304.9 242.4,304.4 242.8,304.9 243.2,304.8 243.6,305.1 244.0,305.1 244.5,305.1 244.9,305.2 245.3,305.4 245.7,306.1 246.1,305.9 246.5,305.8 246.9,306.5 247.2,306.7 247.6,306.4 248.0,306.3 248.5,306.4 248.9,306.5 249.4,306.8 249.8,306.8 250.2,307.0 250.7,307.2 251.1,307.6 251.5,308.0 251.9,308.0 252.4,307.9 252.8,308.0 253.2,308.2 253.6,308.2 254.0,308.3 254.4,308.2 254.8,308.5 255.2,309.2 255.6,308.6 256.0,309.0 256.4,309.3 256.7,309.5 257.1,309.1 257.5,309.3 257.8,309.3 258.2,309.6 258.6,309.7 258.9,310.2 259.2,310.2 259.6,310.2 259.9,309.6 260.4,309.8 260.9,310.4 261.4,310.6 261.9,310.4 262.4,310.5 262.8,310.1 263.3,310.5 263.7,311.0 264.1,310.9 264.5,311.0 264.9,311.1 265.3,310.5 265.7,310.4 266.1,310.5 266.4,310.7 266.8,310.8 267.3,311.0 267.7,310.7 268.1,310.5 268.6,310.5 268.9,310.1 269.3,310.0 269.6,309.4 269.9,309.8 270.3,309.1 270.6,309.5 270.9,309.0 271.3,308.5 271.6,308.2 271.9,308.1 272.3,308.1 272.6,307.9 272.9,307.1 273.2,306.8 273.6,306.9 273.9,306.6 274.2,306.2 274.5,305.8 274.8,305.9 275.2,305.2 275.5,305.3 275.8,305.3 276.3,305.6 276.7,305.2 277.2,305.5 277.6,305.2 278.1,305.1 278.5,305.2 279.0,305.8 279.4,305.7 279.9,305.3 280.3,305.1 280.7,305.4 281.1,305.4 281.5,305.0 281.9,304.7 282.3,304.8 282.7,304.8 283.1,304.1 283.5,303.8 283.9,304.1 284.3,304.1 284.9,304.6 285.5,304.5 285.8,305.3 286.1,305.5 286.4,305.6 286.7,305.6 287.0,306.5 287.4,306.3 287.8,307.0 288.2,306.8 288.5,307.0 288.8,307.6 289.1,307.4 289.5,308.2 289.8,308.0 290.2,308.0 290.5,308.3 290.9,308.7 291.3,309.1 291.7,309.5 292.1,309.1 292.5,309.6 292.9,309.7 293.3,310.5 293.7,310.1 294.1,310.2 294.6,310.4 295.0,310.9 295.3,311.5 295.7,311.6 296.0,311.7 296.4,312.1 296.8,312.2 297.1,311.9 297.5,311.9 297.9,312.7 298.3,312.7 298.7,312.3 299.1,313.0 299.5,313.0 299.9,313.1 300.3,313.2 300.7,313.3 301.1,313.3 301.5,313.6 301.9,313.8 302.2,314.5 302.6,313.9 303.0,314.7 303.3,314.2 303.7,314.4 304.0,314.9 304.5,314.9 305.0,314.7 305.4,314.4 305.9,314.8 306.3,314.7 306.7,315.1 307.1,314.5 307.5,314.6 307.9,315.0 308.4,314.3 308.8,314.5 309.2,314.8 309.6,314.8 310.0,314.2 310.4,314.2 310.8,314.3 311.2,315.0 311.6,314.5 312.1,314.9 312.5,315.1 312.9,314.7 313.3,314.7 313.7,315.3 314.1,315.1 314.6,314.9 315.0,315.4 315.4,315.2 315.8,315.3 316.2,315.2 316.7,315.9 317.1,316.2 317.5,316.1 317.9,316.5 318.2,316.0 318.6,316.3 319.0,316.7 319.4,317.3 319.7,317.5 320.1,317.3 320.5,317.4 320.8,317.8 321.2,318.1 321.6,318.7 321.9,318.4 322.3,319.1 322.7,319.3 323.1,319.6 323.5,319.8 323.9,319.9 324.3,319.9 324.7,320.0 325.1,320.3 325.4,320.8 325.8,320.4 326.2,320.7 326.7,321.3 327.1,321.1 327.5,321.1 327.9,321.3 328.3,321.8 328.7,321.8 329.1,322.5 329.5,322.6 329.9,322.9 330.3,322.5 330.7,322.5 331.1,322.6 331.5,323.1 331.8,323.4 332.2,323.4 332.7,323.4 333.1,323.7 333.6,324.1 334.0,324.3 334.4,324.5 334.8,324.7 335.2,324.7 335.6,324.5 336.0,325.2 336.4,324.9 336.8,325.3 337.2,325.3 337.6,325.7 338.0,325.5 338.4,325.7 338.8,325.8 339.2,325.9 339.6,326.7 340.0,326.6 340.4,326.6 340.8,326.9 341.2,327.5 341.7,327.3 342.1,327.3 342.4,327.9 342.8,327.9 343.2,328.3 343.6,327.7 344.2,328.1 344.7,328.3 345.2,328.3 345.7,328.2 346.1,327.3 346.4,327.3 346.8,326.9 347.2,326.8 347.6,327.2 348.0,326.6 348.5,326.6 348.8,326.0 349.1,326.2 349.3,325.7 349.8,325.3 350.2,325.5 350.7,325.6 351.2,325.0 351.8,325.7 352.1,326.0 352.4,325.9 352.8,326.4 353.1,326.5 353.4,327.0 353.7,327.4 354.1,328.0 354.4,328.5 354.7,328.5 355.0,328.7 355.2,329.3 355.5,329.8 355.8,329.8 356.1,330.2 356.5,330.7 356.9,331.7 357.1,331.8 357.3,331.8 357.6,332.1 357.8,332.6 358.0,333.0 358.4,333.6 358.6,333.5 358.8,333.8 359.1,334.6 359.3,334.7 359.6,334.9 359.8,335.3 360.1,336.2 360.4,336.0 360.6,336.6 360.9,336.8 361.2,337.2 361.5,338.0 361.7,338.4 362.0,338.3 362.2,338.5 362.5,339.3 362.7,339.2 363.0,339.3 363.2,340.3 363.4,340.2 363.7,341.0 364.0,341.0 364.3,341.8 364.5,341.8 364.8,341.9 365.0,342.1 365.2,342.9 365.5,343.3 365.7,343.8 365.9,343.4 366.1,344.2 366.3,344.3 366.6,344.7 366.8,344.7 367.1,345.2 367.3,345.7 367.5,346.4 367.8,346.1 368.0,346.7 368.2,347.3 368.5,347.7 368.7,347.5 369.0,347.8 369.3,348.8 369.6,349.1 369.8,349.0 370.1,348.9 370.5,350.1 371.0,350.2 371.3,350.9 371.6,350.9 371.8,351.3 372.1,351.1 372.4,351.8 372.7,351.7 373.0,352.1 373.3,352.8 373.6,353.0 373.9,352.8 374.2,353.1 374.5,353.6 374.8,354.0 375.1,354.2 375.4,354.3 375.7,354.7 376.0,355.4 376.3,355.8 376.6,355.4 376.9,356.1 377.2,356.6 377.4,356.3 377.7,357.3 377.9,357.0 378.2,357.7 378.5,357.9 378.7,358.3 379.0,358.4 379.3,358.8 379.5,359.3 379.8,359.5 380.0,360.0 380.3,360.1 380.6,360.4 380.8,360.4 381.1,361.2 381.3,361.4 381.6,361.5 381.9,362.3 382.1,362.6 382.4,362.6 382.7,362.7 382.9,363.2 383.2,363.2 383.4,363.4 383.7,363.9 384.0,364.0 384.4,364.6 384.7,364.9 385.1,364.8 385.4,365.6 385.7,365.4 386.1,366.2 386.4,366.5 386.8,366.6 387.1,366.5 387.4,367.1 387.8,367.2 388.1,367.9 388.5,367.4 388.8,368.2 389.1,368.5 389.5,368.5 389.8,368.8 390.2,368.5 390.5,369.3 390.9,369.1 391.3,369.7 391.8,369.8 392.2,369.4 392.6,370.0 393.0,370.2 393.4,369.7 393.8,370.0 394.3,370.4 394.7,370.1 395.1,370.7 395.5,370.4 395.9,370.9 396.4,370.5 396.8,370.9 397.2,371.3 397.6,370.9 398.0,371.1 398.5,371.4 398.9,371.4 399.3,371.3 399.7,371.6 400.2,371.7 400.6,372.4 401.0,372.4 401.4,372.7 401.9,372.2 402.3,372.9 402.7,372.5 403.1,372.9 403.6,373.2 404.0,373.1 404.4,373.6 404.9,373.5 405.3,373.7 405.7,374.1 406.1,373.6 406.6,374.5 407.0,374.3 407.4,374.3 407.8,374.7 408.3,374.5 408.7,375.2 409.1,375.0 409.5,375.0 410.0,375.4 410.4,375.3 410.8,375.2 411.2,375.8 411.6,375.4 412.1,376.2 412.5,375.9 412.9,376.3 413.4,376.8 413.8,376.6 414.2,376.8 414.6,376.7 415.1,376.6 415.5,376.7 415.9,376.9 416.3,377.4 416.7,377.4 417.1,377.6 417.5,378.0 417.9,377.5 418.4,377.7 418.8,378.1 419.2,377.7 419.6,377.8 420.0,378.1 420.3,378.0 420.7,378.3 421.1,378.3 421.5,378.6 421.9,378.7 422.3,378.5 422.8,378.9 423.2,378.9 423.6,378.7 424.0,379.4 424.4,379.0 424.8,379.0 425.3,379.1 425.7,379.7 426.1,380.0 426.5,380.0 427.0,379.8 427.4,379.8 427.9,379.7 428.3,380.3 428.7,380.4 429.2,380.3 429.6,380.6 430.0,380.6 430.4,381.0 430.9,380.9 431.3,380.6 431.8,381.2 432.3,380.6 432.7,381.0 433.2,381.0 433.7,380.9 434.1,380.8 434.6,381.4 434.9,380.8 435.3,381.3 436.0,381.7 436.5,381.1" stroke="#0000CC" stroke-width="1.9"/>
<path d="M5.8,294.5 6.3,295.9 6.8,294.4 7.5,295.5 7.9,294.4 8.2,294.7 8.6,296.1 9.0,294.7 9.5,295.5 9.9,295.2 10.3,295.3 10.8,295.4 11.3,294.9 11.7,296.0 12.2,294.7 12.7,295.0 13.1,294.7 13.6,295.2 14.1,295.5 14.5,296.4 15.0,295.5 15.4,295.1 15.9,295.4 16.3,296.8 16.7,295.2 17.1,296.2 17.5,295.8 17.9,296.4 18.3,295.9 18.7,296.6 19.1,296.3 19.5,296.6 19.9,297.2 20.3,296.6 20.7,295.9 21.1,295.9 21.5,297.5 21.9,296.8 22.3,296.3 22.7,297.7 23.1,297.1 23.5,297.5 23.9,297.8 24.3,296.8 24.8,297.0 25.2,298.0 25.6,296.7 26.0,297.9 26.4,296.8 26.8,297.9 27.2,298.0 27.6,298.5 28.0,298.4 28.4,297.8 28.8,297.3 29.3,297.3 29.7,298.0 30.1,298.0 30.6,297.3 31.0,298.9 31.4,298.2 31.9,298.6 32.3,297.8 32.7,297.9 33.2,297.5 33.6,298.1 34.0,298.1 34.5,298.4 34.9,298.3 35.3,299.2 35.7,299.4 36.1,298.1 36.5,298.5 36.9,298.2 37.2,299.1 37.6,299.7 38.3,298.4 38.9,299.5 39.3,298.7 39.6,298.2 40.0,299.6 40.4,299.0 40.8,298.8 41.2,299.3 41.6,299.1 42.2,299.5 42.9,299.7 43.3,299.6 43.6,299.9 44.1,299.3 44.5,298.9 45.1,298.7 45.5,298.6 45.8,299.2 46.1,298.7 46.5,299.3 46.8,298.6 47.2,298.8 47.5,299.1 47.9,297.2 48.2,296.9 48.6,296.9 49.0,297.1 49.3,297.2 49.7,297.3 50.1,296.4 50.5,297.3 50.9,295.4 51.2,296.7 51.6,295.4 52.0,296.4 52.4,294.8 52.8,296.3 53.2,295.8 53.6,296.1 53.9,295.2 54.3,294.4 54.7,295.7 55.1,294.6 55.5,293.9 55.9,294.7 56.3,294.4 56.7,294.3 57.1,293.6 57.5,293.5 57.9,294.2 58.3,293.9 58.7,293.2 59.2,293.7 59.6,294.2 60.1,294.0 60.5,293.5 60.9,293.3 61.4,293.1 61.8,292.8 62.1,292.7 62.5,293.1 62.9,292.4 63.3,293.5 63.7,293.4 64.1,293.1 64.5,292.0 64.9,292.5 65.4,292.6 65.8,291.9 66.2,293.4 66.6,293.0 67.0,292.5 67.5,292.8 67.9,291.8 68.3,291.8 68.7,292.3 69.2,292.6 69.6,292.4 70.0,291.2 70.4,292.2 70.8,292.7 71.2,292.3 71.6,292.6 72.0,292.7 72.3,291.2 72.7,291.3 73.2,291.7 73.6,292.4 74.0,291.3 74.5,292.3 74.9,292.0 75.3,291.4 75.7,291.5 76.1,292.1 76.5,291.7 76.9,290.8 77.3,291.7 77.7,290.5 78.1,290.8 78.5,291.8 78.9,291.6 79.3,290.6 79.7,290.5 80.1,291.0" stroke="#800080" stroke-width="2.0"/><path d="M80.1,291.2 80.5,291.1 80.9,291.3 81.3,291.1 81.7,291.2 82.1,291.0 82.5,290.8 82.9,290.9 83.3,291.0 83.7,291.1 84.1,291.4 84.5,290.9 84.9,290.8 85.3,291.5 85.7,291.1 86.1,291.3 86.5,291.1 86.9,291.8 87.3,291.4 87.7,291.5 88.2,292.0 88.6,291.8 89.0,291.7 89.4,292.3 89.9,292.0 90.3,292.0 90.8,292.6 91.2,292.5 91.5,292.5 91.9,292.1 92.3,292.7 92.7,292.6 93.0,292.8 93.4,292.5 93.8,292.9 94.2,292.9 94.6,292.6 95.0,292.9 95.4,293.1 95.8,293.3 96.2,293.3 96.6,293.3 97.0,292.7 97.4,293.2 97.9,293.4 98.3,292.9 98.7,293.3 99.1,293.7 99.5,293.8 100.0,293.9 100.4,293.2 100.8,293.8 101.2,294.1 101.7,294.0 102.1,293.7 102.5,293.6 102.9,294.4 103.3,294.5 103.7,294.4 104.1,294.2 104.5,294.7 104.9,294.8 105.3,294.8 105.7,294.8 106.1,294.6 106.6,294.7 107.0,294.8 107.4,294.9 107.8,295.2 108.3,294.9 108.7,295.5 109.1,295.3 109.5,295.2 110.0,295.4 110.4,295.6 110.8,295.8 111.2,296.2 111.6,295.7 112.0,295.9 112.4,296.0 112.8,296.0 113.2,296.6 113.6,296.1 113.9,296.2 114.3,296.7 114.6,296.9 115.0,297.1 115.5,297.0 116.0,296.9 116.4,297.5 116.9,297.4 117.4,297.3 117.8,297.5 118.2,297.9 118.7,298.1 119.1,298.2 119.5,297.5 119.9,297.8 120.3,298.0 120.7,297.8 121.1,298.4 121.5,297.9 121.8,298.7 122.2,298.5 122.6,298.5 122.9,298.4 123.3,298.9 123.6,298.6 124.0,298.9 124.5,298.8 124.9,298.6 125.4,298.7 125.8,298.2 126.3,297.9 126.7,298.2 127.1,297.8 127.5,297.4 127.9,297.6 128.3,297.2 128.7,296.7 129.1,297.2 129.4,296.8 129.8,297.1 130.1,296.6 130.5,296.9 131.0,296.3 131.4,296.2 131.8,296.5 132.2,296.7 132.6,296.8 133.0,296.6 133.4,296.2 133.8,296.5 134.2,296.3 134.5,296.7 134.9,297.3 135.3,296.9 135.7,297.3 136.1,297.3 136.4,297.0 136.8,297.6 137.2,297.2 137.6,297.5 137.9,298.0 138.3,297.7 138.7,298.7 139.1,298.3 139.4,298.7 139.8,299.2 140.2,298.7 140.6,299.7 140.9,299.1 141.3,299.8 141.7,300.2 142.1,300.7 142.5,300.4 142.8,301.2 143.2,301.2 143.6,301.4 143.9,301.3 144.3,301.7 144.6,302.0 145.0,302.3 145.3,302.5 145.6,303.2 145.9,303.0 146.2,303.5 146.5,303.2 146.8,303.5 147.2,304.3 147.5,304.7 147.9,304.4 148.3,304.4 148.6,304.7 148.9,305.0 149.3,305.2 149.6,305.5 149.9,305.5 150.2,305.9 150.6,306.2 150.9,306.4 151.3,306.5 151.7,306.5 152.1,306.4 152.5,307.1 153.0,306.8 153.5,307.5 153.8,307.2 154.2,307.5 154.5,307.5 155.2,307.8 155.5,307.7 155.8,308.0 156.2,308.2 156.6,308.0 157.0,308.3 157.4,308.3 157.8,308.4 158.2,308.4 158.6,308.7 159.0,308.9 159.4,308.6 159.8,308.7 160.3,309.4 160.7,308.8 161.1,309.6 161.6,309.6 162.0,309.3 162.4,309.7 162.9,309.5 163.3,310.2 163.7,309.7 164.1,309.7 164.6,309.8 165.0,310.5 165.4,310.1 165.8,310.3 166.2,311.0 166.6,310.9 167.0,311.1 167.4,311.0 167.8,311.2 168.2,310.7 168.6,311.6 169.0,311.3 169.4,311.8 169.8,311.6 170.2,312.1 170.6,311.4 171.0,312.4 171.5,311.7 171.9,312.2 172.3,312.3 172.7,312.9 173.1,312.8 173.5,313.1 173.9,313.2 174.3,312.9 174.7,312.7 175.1,312.8 175.5,313.5 175.9,313.8 176.3,313.6 176.7,313.5 177.1,313.8 177.5,313.9 177.9,313.7 178.3,314.2 178.7,313.9 179.1,313.8 179.6,314.0 180.0,314.4 180.4,314.7 180.8,314.4 181.2,314.7 181.6,315.1 182.0,314.8 182.4,315.1 182.9,315.3 183.3,315.2 183.7,315.1 184.1,315.7 184.5,315.8 184.9,315.4 185.3,316.1 185.7,316.0 186.1,316.3 186.5,316.3 186.9,316.2 187.3,316.4 187.6,316.2 188.0,316.6 188.4,316.1 188.8,316.5 189.3,316.7 189.7,317.2 190.2,317.1 190.6,317.4 191.1,317.5 191.5,317.7 192.0,317.5 192.4,317.6 192.8,317.6 193.3,317.5 193.7,318.1 194.1,318.0 194.5,317.7 194.9,317.8 195.3,317.9 195.7,318.4 196.1,318.3 196.4,318.0 196.8,318.5 197.4,318.3 198.0,318.0 198.5,317.9 198.9,318.2 199.1,317.1 199.4,316.9 199.6,317.0 199.7,316.9 199.9,316.6 200.1,315.8 200.2,315.8 200.3,314.9 200.5,314.8 200.7,314.8 200.8,314.3 201.3,313.7 201.7,313.9 202.0,313.8 202.4,314.2 202.7,314.9 203.0,315.3 203.2,314.8 203.4,315.6 203.8,316.1 204.2,316.1 204.6,316.1 205.0,316.1 205.4,316.1 205.9,316.2 206.3,316.3 206.7,315.8 207.2,316.8 207.6,316.3 207.9,316.8 208.1,316.7 208.4,317.4 208.6,317.3 208.9,317.9 209.1,318.3 209.4,318.6 209.6,319.2 209.9,319.2 210.2,319.9 210.6,320.5 210.9,320.6 211.2,321.1 211.6,321.3 212.0,321.1 212.3,321.2 212.7,321.7 213.1,321.9 213.5,321.8 214.0,322.0 214.4,322.2 214.8,322.2 215.3,322.3 215.7,322.3 216.2,322.5 216.6,322.7 217.0,323.1 217.4,322.6 217.8,322.7 218.2,323.5 218.7,323.2 219.1,323.5 219.5,323.8 219.9,323.7 220.4,323.7 220.8,324.1 221.3,323.9 221.7,323.9 222.1,323.7 222.6,323.8 223.0,324.5 223.4,324.7 223.8,324.3 224.2,324.5 224.7,324.8 225.1,324.8 225.5,324.7 225.9,325.3 226.3,325.1 226.7,325.4 227.1,325.5 227.6,325.4 228.0,325.7 228.4,325.4 228.8,325.8 229.2,326.0 229.6,326.1 230.0,325.9 230.4,325.9 230.8,325.9 231.1,326.0 231.5,326.2 231.8,326.5 232.2,326.7 232.5,326.9 232.9,326.8 233.2,327.1 233.6,326.6 234.0,326.9 234.4,326.8 234.8,327.3 235.3,327.4 235.8,327.6 236.3,327.5 237.0,327.6 237.3,327.7 237.7,327.5 238.0,327.7 238.4,328.0 238.8,328.2 239.2,327.9 239.6,328.6 240.0,328.0 240.4,328.1 240.8,328.5 241.2,328.5 241.6,328.8 242.1,329.0 242.5,329.0 242.9,329.3 243.4,329.1 243.8,329.4 244.2,329.2 244.7,329.0 245.1,329.1 245.5,329.3 245.9,329.6 246.4,329.5 246.8,329.9 247.2,330.1 247.6,330.4 248.0,329.8 248.4,330.6 248.8,329.8 249.2,330.7 249.6,330.9 250.1,330.4 250.5,330.9 250.9,330.7 251.3,330.9 251.7,331.2 252.1,331.4 252.5,330.9 252.9,331.0 253.4,331.7 253.8,331.5 254.2,331.8 254.6,331.3 255.0,332.0 255.4,331.4 255.8,331.5 256.2,331.7 256.6,332.4 257.0,331.9 257.4,332.0 257.8,332.0 258.1,331.8 258.5,332.2 258.9,332.3 259.3,332.2 259.8,332.6 260.2,332.3 260.6,332.9 261.1,332.9 261.5,332.6 261.9,332.2 262.4,332.6 262.8,332.7 263.2,332.7 263.6,332.6 264.1,332.8 264.5,333.1 264.9,332.8 265.3,332.2 265.7,332.7 266.0,332.7 266.4,332.6 266.8,332.9 267.2,332.0 267.5,332.0 267.8,332.5 268.5,331.8 268.9,331.7 269.4,332.2 269.8,331.6 270.2,331.8 270.5,331.5 270.9,331.1 271.2,330.6 271.5,330.1 271.8,330.6 272.2,330.2 272.5,330.0 272.8,329.4 273.1,328.9 273.4,329.0 273.7,328.6 274.0,328.2 274.4,328.0 274.9,328.0 275.3,327.7 275.7,327.6 276.1,328.1 276.6,328.0 277.0,327.8 277.4,327.4 277.8,327.5 278.2,326.9 278.6,327.2 279.0,327.4 279.5,327.1 279.9,327.1 280.3,326.6 280.8,326.2 281.2,325.8 281.6,325.8 282.1,326.3 282.5,325.9 283.0,326.0 283.4,326.2 283.8,325.8 284.1,325.8 284.5,326.7 284.9,326.6 285.2,326.3 285.6,327.2 286.0,327.4 286.4,327.7 286.8,327.4 287.2,327.8 287.5,328.4 287.9,328.5 288.2,328.4 288.5,329.0 288.9,328.6 289.2,329.2 289.6,328.7 289.9,329.1 290.3,329.7 290.7,329.5 291.1,329.7 291.5,329.9 291.9,329.8 292.3,329.9 292.7,330.3 293.1,330.1 293.6,330.6 294.0,330.6 294.4,330.0 294.8,330.4 295.2,331.1 295.6,330.5 296.0,330.6 296.4,331.2 296.8,331.5 297.2,331.9 297.7,332.0 298.1,331.9 298.6,332.1 299.0,332.1 299.5,332.6 299.9,332.6 300.3,332.3 300.8,332.9 301.2,332.6 301.6,333.0 302.0,333.1 302.4,333.8 302.8,333.3 303.1,333.6 303.4,333.9 304.0,333.8 304.5,334.3 304.9,334.5 305.2,335.1 305.5,335.3 305.9,335.2 306.3,335.5 306.9,335.2 307.2,335.5 307.6,334.9 308.0,335.2 308.4,335.1 308.8,335.7 309.3,335.3 309.7,335.2 310.2,335.5 310.7,335.7 311.1,335.6 311.6,335.6 312.1,335.5 312.6,335.6 313.1,335.4 313.5,335.3 314.0,335.3 314.4,335.3 314.9,335.4 315.3,335.6 315.7,336.0 316.0,335.5 316.4,335.7 316.9,335.8 317.3,336.1 317.7,336.0 318.1,336.7 318.5,337.2 318.8,337.5 319.1,337.2 319.5,337.3 319.8,338.1 320.1,338.4 320.4,338.2 320.7,338.4 321.0,339.2 321.4,339.2 321.7,339.6 322.1,339.9 322.5,340.3 322.8,339.9 323.2,340.2 323.6,340.2 323.9,341.0 324.3,340.6 324.7,341.5 325.1,341.5 325.5,341.6 325.9,341.6 326.3,342.3 326.6,341.8 327.0,342.4 327.4,342.8 327.8,342.8 328.1,342.4 328.5,342.6 328.8,342.9 329.3,343.5 329.7,343.2 330.2,344.1 330.6,344.2 331.0,344.0 331.4,344.5 331.9,344.4 332.3,344.1 332.7,344.5 333.1,344.3 333.6,344.8 334.0,345.4 334.4,345.1 334.8,345.4 335.2,345.3 335.6,345.7 336.0,345.6 336.4,346.2 336.9,345.9 337.3,346.0 337.7,346.3 338.1,346.1 338.6,346.5 339.1,347.0 339.5,346.9 340.0,347.1 340.4,347.0 340.8,347.7 341.2,347.8 341.6,347.5 342.1,347.3 342.5,347.8 343.0,348.4 343.4,348.3 343.9,348.1 344.3,348.1 344.8,349.0 345.2,348.4 345.7,349.0 346.1,349.1 346.5,348.9 346.9,349.2 347.2,349.7 347.6,349.9 348.0,349.2 348.3,349.3 348.7,349.6 349.1,349.5 349.6,350.4 350.0,349.7 350.4,350.1 350.8,350.7 351.2,350.5 351.7,350.5 352.1,350.6 352.4,351.0 352.7,351.3 353.0,352.0 353.3,351.9 353.6,352.3 353.9,352.3 354.3,352.7 354.6,353.5 354.9,353.1 355.2,354.0 355.5,353.9 355.8,354.3 356.1,354.9 356.4,354.9 356.7,355.3 357.0,355.6 357.3,355.9 357.6,355.9 357.9,356.5 358.3,356.8 358.5,357.2 358.8,357.4 359.1,357.8 359.4,358.4 359.7,358.1 360.0,358.4 360.3,359.1 360.6,359.3 361.1,360.0 361.5,359.5 361.9,359.7 362.3,360.3 362.7,360.0 363.1,360.4 363.5,360.2 363.8,360.2 364.2,360.7 364.5,360.6 365.1,361.1 365.4,361.6 365.8,361.5 366.1,362.0 366.5,361.8 366.9,361.9 367.2,362.3 367.6,362.5 368.0,363.1 368.3,362.8 368.7,363.6 369.1,363.3 369.4,363.7 369.8,363.7 370.1,363.9 370.5,364.1 370.9,365.1 371.3,364.5 371.8,365.5 372.1,365.2 372.5,365.8 372.9,365.4 373.3,365.9 373.7,366.2 374.0,366.0 374.4,366.5 374.7,367.0 375.1,366.8 375.5,366.7 375.8,367.4 376.2,367.9 376.5,367.8 376.8,368.4 377.1,368.2 377.4,368.6 377.7,368.8 378.0,368.7 378.3,369.0 378.5,369.8 378.9,370.6 379.1,370.3 379.4,371.2 379.7,370.9 380.0,371.2 380.3,371.1 380.9,371.3 381.2,372.0 381.5,372.4 381.9,372.3 382.3,372.0 382.7,372.6 383.1,372.2 383.5,372.7 384.0,373.1 384.4,372.9 384.9,373.0 385.3,373.1 385.7,373.2 386.2,373.1 386.6,373.9 387.0,373.7 387.4,373.7 387.8,374.0 388.2,373.9 388.6,374.4 389.0,374.7 389.4,374.9 389.7,374.9 390.1,375.6 390.5,375.0 390.8,375.3 391.2,375.8 391.5,375.8 391.9,375.9 392.2,376.5 392.6,376.5 393.0,376.7 393.4,377.0 393.8,377.0 394.2,377.3 394.6,377.9 395.0,377.4 395.3,377.8 395.7,378.1 396.0,378.5 396.4,378.0 396.7,378.2 397.1,378.6 397.5,379.1 397.8,378.9 398.2,379.0 398.6,379.5 399.0,379.5 399.4,380.1 399.8,380.6 400.1,380.6 400.5,380.6 400.9,380.7 401.3,380.5 401.7,381.1 402.1,381.4 402.5,381.4 402.9,381.6 403.2,382.3 403.6,381.9 404.0,382.0 404.4,382.3 404.8,382.9 405.2,382.3 405.6,382.8 406.0,383.4 406.5,383.2 406.9,383.1 407.3,383.3 407.7,383.7 408.1,383.3 408.5,384.2 408.9,384.1 409.3,384.4 409.7,383.9 410.1,383.8 410.5,384.2 410.9,384.5 411.4,384.7 411.8,384.9 412.2,384.5 412.6,385.4 413.0,384.8 413.4,384.9 413.8,385.0 414.2,385.3 414.7,385.2 415.1,385.8 415.5,385.6 415.9,385.5 416.4,385.9 416.8,386.4 417.2,386.2 417.6,385.9 418.0,386.5 418.5,386.5 418.9,386.6 419.3,386.9 419.7,386.4 420.1,387.0 420.5,387.2 420.9,387.4 421.3,387.0 421.7,387.0 422.1,387.5 422.5,387.8 422.9,387.9 423.4,387.7 423.8,387.5 424.2,388.1 424.6,387.5 425.0,388.1 425.4,388.3 425.8,388.2 426.2,388.4 426.6,388.2 427.0,388.5 427.4,388.2 427.8,388.7 428.1,388.3 428.5,388.4 428.9,388.4 429.3,388.7 429.6,388.5 430.0,389.2 430.5,389.5 430.9,389.5 431.4,388.9 431.9,389.4 432.4,389.2 432.8,389.7 433.3,389.3 433.7,390.3 434.2,389.9 434.6,389.8 435.0,390.1 435.4,390.1 436.0,390.4 436.5,390.4" stroke="#800080" stroke-width="1.9"/>
</g>
<line x1="233.5" y1="32.7" x2="233.5" y2="392" stroke="#A4687A" stroke-width="1.25"/>
<line x1="277.1" y1="63.5" x2="277.1" y2="392" stroke="#CC909C" stroke-width="1.7"/>
<line x1="422.4" y1="37.2" x2="422.4" y2="392" stroke="#B07488" stroke-width="1.3"/>
<path d="M35.2,392.8V396.9M65.2,392.8V399.7M95.2,392.8V396.9M125.2,392.8V399.7M155.2,392.8V396.9M185.2,392.8V399.7M215.2,392.8V396.9M245.2,392.8V399.7M275.2,392.8V396.9M305.2,392.8V399.7M335.2,392.8V396.9M365.2,392.8V399.7M395.2,392.8V396.9M425.2,392.8V399.7" stroke="#000" stroke-width="1.6" fill="none"/>
<g font-family="Liberation Sans" font-weight="bold" font-size="14.5" text-anchor="middle" fill="#000"><text x="65.2" y="414.7">3500</text><text x="125.2" y="414.7">3000</text><text x="185.2" y="414.7">2500</text><text x="245.2" y="414.7">2000</text><text x="305.2" y="414.7">1500</text><text x="365.2" y="414.7">1000</text><text x="425.2" y="414.7">500</text></g>
<text x="218" y="437.2" font-family="Liberation Sans" font-weight="bold" font-size="17.4" text-anchor="middle">Wavenumber(cm<tspan font-size="11" dy="-7">-1</tspan><tspan dy="7">)</tspan></text>
<g font-family="Liberation Serif" font-weight="bold" fill="#000">
<text x="7.6" y="21.4" font-size="18">(a)</text>
<text x="179" y="25.3" font-size="18.5">N<tspan font-size="12">3</tspan>(2098cm<tspan font-size="11" dy="-7">-1</tspan><tspan dy="7">)</tspan></text>
<text x="238.7" y="59.8" font-size="18.5">C=O(1735cm<tspan font-size="11" dy="-7">-1</tspan><tspan dy="7">)</tspan></text>
<text x="337.6" y="25" font-size="18.5">C<tspan font-size="12">60</tspan>(525cm<tspan font-size="11" dy="-7">-1</tspan><tspan dy="7">)</tspan></text>
</g>
<text x="4.9" y="42.7" fill="#000000" font-family="Liberation Sans" font-weight="bold" font-size="17">27</text>
<circle cx="27.6" cy="32.1" r="1.55" fill="none" stroke="#000000" stroke-width="0.9"/>
<text x="28.1" y="42.9" fill="#000000" font-family="Liberation Serif" font-size="18">C</text>
<text x="6.9" y="82.6" fill="#8C8C00" font-family="Liberation Sans" font-weight="bold" font-size="17">106</text>
<circle cx="39.1" cy="72.0" r="1.55" fill="none" stroke="#8C8C00" stroke-width="0.9"/>
<text x="39.6" y="82.8" fill="#8C8C00" font-family="Liberation Serif" font-size="18">C</text>
<text x="6.9" y="122.3" fill="#008000" font-family="Liberation Sans" font-weight="bold" font-size="17">124</text>
<circle cx="39.1" cy="111.7" r="1.55" fill="none" stroke="#008000" stroke-width="0.9"/>
<text x="39.6" y="122.5" fill="#008000" font-family="Liberation Serif" font-size="18">C</text>
<text x="4.3" y="154.6" fill="#FF00FF" font-family="Liberation Sans" font-weight="bold" font-size="17">149</text>
<circle cx="36.5" cy="144.0" r="1.55" fill="none" stroke="#FF00FF" stroke-width="0.9"/>
<text x="37.0" y="154.8" fill="#FF00FF" font-family="Liberation Serif" font-size="18">C</text>
<text x="3.7" y="191.4" fill="#8000F0" font-family="Liberation Sans" font-weight="bold" font-size="17">172</text>
<circle cx="35.9" cy="180.8" r="1.55" fill="none" stroke="#8000F0" stroke-width="0.9"/>
<text x="36.4" y="191.6" fill="#8000F0" font-family="Liberation Serif" font-size="18">C</text>
<text x="8.1" y="220.5" fill="#FF0000" font-family="Liberation Sans" font-weight="bold" font-size="17">205</text>
<circle cx="40.3" cy="209.9" r="1.55" fill="none" stroke="#FF0000" stroke-width="0.9"/>
<text x="40.8" y="220.7" fill="#FF0000" font-family="Liberation Serif" font-size="18">C</text>
<text x="8.8" y="252.6" fill="#0000DD" font-family="Liberation Sans" font-weight="bold" font-size="17">261</text>
<circle cx="41.0" cy="242.0" r="1.55" fill="none" stroke="#0000DD" stroke-width="0.9"/>
<text x="41.5" y="252.8" fill="#0000DD" font-family="Liberation Serif" font-size="18">C</text>
<text x="4.9" y="285.3" fill="#800080" font-family="Liberation Sans" font-weight="bold" font-size="17">305</text>
<circle cx="37.1" cy="274.7" r="1.55" fill="none" stroke="#800080" stroke-width="0.9"/>
<text x="37.6" y="285.5" fill="#800080" font-family="Liberation Serif" font-size="18">C</text>
<rect x="5.7" y="7.7" width="431.2" height="385.1" fill="none" stroke="#000" stroke-width="1.65"/>
<g stroke-width="1.7" fill="none">
<path d="M513,6.5H949.6" stroke="#000"/>
<path d="M513,392.9H949.6" stroke="#000"/>
<path d="M517.5,6.5V392.9" stroke="#000"/>
<path d="M949.1,6.5H953.6" stroke="#0000CC"/>
<path d="M949.6,5.7V393.4" stroke="#0000CC" stroke-width="2"/>
<path d="M517.5,392.9V399.4M548.4,392.9V396.6M548.4,6.5V10.5M579.2,392.9V399.4M579.2,6.5V13.5M610.1,392.9V396.6M610.1,6.5V10.5M641.0,392.9V399.4M641.0,6.5V13.5M671.8,392.9V396.6M671.8,6.5V10.5M702.7,392.9V399.4M702.7,6.5V13.5M733.5,392.9V396.6M733.5,6.5V10.5M764.4,392.9V399.4M764.4,6.5V13.5M795.3,392.9V396.6M795.3,6.5V10.5M826.1,392.9V399.4M826.1,6.5V13.5M857.0,392.9V396.6M857.0,6.5V10.5M887.9,392.9V399.4M887.9,6.5V13.5M918.7,392.9V396.6M918.7,6.5V10.5M949.6,392.9V399.4" stroke="#000" stroke-width="1.6"/>
<path d="M517.5,383.8H510.5M517.5,358.6H513.7M517.5,333.5H510.5M517.5,308.3H513.7M517.5,283.2H510.5M517.5,258.0H513.7M517.5,232.8H510.5M517.5,207.7H513.7M517.5,182.5H510.5M517.5,157.3H513.7M517.5,132.2H510.5M517.5,107.0H513.7M517.5,81.8H510.5M517.5,56.7H513.7M517.5,31.5H510.5M517.5,6.3H513.7" stroke="#000" stroke-width="1.6"/>
<path d="M949.6,392.9H956.6M949.6,357.8H953.6M949.6,322.7H956.6M949.6,287.7H953.6M949.6,252.6H956.6M949.6,217.5H953.6M949.6,182.4H956.6M949.6,147.4H953.6M949.6,112.3H956.6M949.6,77.2H953.6M949.6,42.1H956.6M949.6,7.1H953.6" stroke="#0000CC" stroke-width="1.6"/>
</g>
<g font-family="Liberation Sans" font-weight="bold" font-size="16.2" text-anchor="middle" fill="#000"><text x="516.7" y="416.3">25</text><text x="578.4" y="416.3">50</text><text x="640.2" y="416.3">75</text><text x="701.9" y="416.3">100</text><text x="763.6" y="416.3">125</text><text x="825.3" y="416.3">150</text><text x="887.1" y="416.3">175</text><text x="948.8" y="416.3">200</text></g>
<g font-family="Liberation Sans" font-weight="bold" font-size="16" text-anchor="end" fill="#000"><text x="506" y="388.4">0.95</text><text x="506" y="338.1">1.00</text><text x="506" y="287.8">1.05</text><text x="506" y="237.4">1.10</text><text x="506" y="187.1">1.15</text><text x="506" y="136.8">1.20</text><text x="506" y="86.4">1.25</text><text x="506" y="36.1">1.30</text></g>
<g font-family="Liberation Sans" font-weight="bold" font-size="16" fill="#0808E0"><text x="960" y="397.0">0.50</text><text x="960" y="326.8">0.55</text><text x="960" y="256.7">0.60</text><text x="960" y="186.5">0.65</text><text x="960" y="116.4">0.70</text><text x="960" y="46.2">0.75</text></g>
<text x="673" y="437" font-family="Liberation Sans" font-weight="bold" font-size="17.3">Temperature</text>
<g font-family="Liberation Serif" font-size="17"><text x="777.6" y="437">(</text><text x="788.9" y="437.2" font-size="17.5">C</text><text x="801" y="437">)</text></g>
<circle cx="786.9" cy="428.4" r="1.65" fill="none" stroke="#000" stroke-width="0.95"/>
<text x="518.4" y="21.1" font-family="Liberation Serif" font-weight="bold" font-size="18">(b)</text>
<text transform="translate(462,225.6) rotate(-90)" font-family="Liberation Sans" font-weight="bold" font-size="17"><tspan font-style="italic">A</tspan><tspan font-size="10.5" dy="5.5">-N3</tspan><tspan dy="-5.5" font-style="italic">/A</tspan><tspan font-size="10.5" dy="5.5">C=O</tspan></text>
<text transform="translate(1013,230.4) rotate(-90)" font-family="Liberation Sans" font-weight="bold" font-size="17"><tspan>A</tspan><tspan font-size="10.5" dy="5.4">C60</tspan><tspan dy="-5.4" font-style="italic">/A</tspan><tspan font-size="10.5" dy="5.4">C=O</tspan></text>
<path d="M527.9,42.2L536.7,42.4M557.6,43.4L596.0,44.6M607.0,44.8L610.8,44.8M621.8,44.8L642.9,44.8M653.9,44.8L672.5,44.6M683.5,44.6L712.0,44.9M722.9,46.1L731.9,48.1M742.2,51.6L757.0,58.4M769.7,68.1L773.9,74.9M780.0,84.0L780.9,85.2M789.6,100.5L791.1,103.0M796.6,112.5L803.9,126.5M809.2,136.1L820.9,156.3M826.9,165.5L852.6,200.9M860.4,208.3L905.4,236.7M915.6,242.0L949.6,256.7" stroke="#000" stroke-width="1.6" fill="none"/>
<path d="M527.4,30.2L537.2,31.6M557.0,34.2L596.5,30.5M606.5,30.0L611.3,30.0M621.3,30.0L643.4,30.0M653.2,31.1L673.1,35.4M683.0,37.1L712.5,40.7M722.5,41.9L732.3,43.1M742.0,45.4L757.2,50.8M768.2,64.8L775.4,90.3M779.0,99.6L781.9,105.5M784.5,115.0L786.3,139.1M788.7,148.7L792.0,155.9M795.6,165.3L804.8,193.7M810.5,201.3L819.6,207.6M827.7,213.3L851.7,230.9M858.8,237.8L907.1,301.4M915.1,305.4L949.6,305.4" stroke="#0000EE" stroke-width="1.6" fill="none"/>
<path d="M522.4,36.7L526.9,44.9L517.9,44.9ZM542.2,37.1L546.7,45.3L537.7,45.3ZM552.1,37.8L556.6,46.0L547.6,46.0ZM601.5,39.4L606.0,47.6L597.0,47.6ZM616.3,39.4L620.8,47.6L611.8,47.6ZM648.4,39.4L652.9,47.6L643.9,47.6ZM678.0,39.2L682.5,47.4L673.5,47.4ZM717.5,39.5L722.0,47.7L713.0,47.7ZM737.3,43.9L741.8,52.1L732.8,52.1ZM761.9,55.3L766.4,63.5L757.4,63.5ZM766.9,58.0L771.4,66.2L762.4,66.2ZM776.8,74.2L781.3,82.4L772.3,82.4ZM784.2,84.2L788.7,92.4L779.7,92.4ZM786.6,90.5L791.1,98.7L782.1,98.7ZM794.0,102.2L798.5,110.4L789.5,110.4ZM806.4,126.0L810.9,134.2L801.9,134.2ZM823.7,155.6L828.2,163.8L819.2,163.8ZM855.8,200.0L860.3,208.2L851.3,208.2ZM910.1,234.2L914.6,242.4L905.6,242.4Z" fill="#000"/>
<path d="M519.2,26.2h6.4v6.4h-6.4ZM539.0,29.2h6.4v6.4h-6.4ZM548.9,31.5h6.4v6.4h-6.4ZM598.3,26.8h6.4v6.4h-6.4ZM613.1,26.8h6.4v6.4h-6.4ZM645.2,26.8h6.4v6.4h-6.4ZM674.8,33.3h6.4v6.4h-6.4ZM714.3,38.1h6.4v6.4h-6.4ZM734.1,40.5h6.4v6.4h-6.4ZM758.7,49.3h6.4v6.4h-6.4ZM763.7,56.8h6.4v6.4h-6.4ZM773.6,91.9h6.4v6.4h-6.4ZM781.0,106.8h6.4v6.4h-6.4ZM783.4,140.9h6.4v6.4h-6.4ZM790.8,157.3h6.4v6.4h-6.4ZM803.2,195.3h6.4v6.4h-6.4ZM820.5,207.2h6.4v6.4h-6.4ZM852.6,230.6h6.4v6.4h-6.4ZM906.9,302.2h6.4v6.4h-6.4Z" fill="#0000EE"/>
<path d="M801.7,28.6H842" stroke="#000" stroke-width="1.6"/>
<path d="M822.1,23.9L826.5,32.1L817.7,32.1Z" fill="#000"/>
<path d="M801.7,66.9H842" stroke="#0000EE" stroke-width="1.6"/>
<path d="M818.9,63.7h6.4v6.4h-6.4Z" fill="#0000EE"/>
<text x="846" y="34.8" font-family="Liberation Sans" font-weight="bold" font-size="17"><tspan font-style="italic">A</tspan><tspan font-size="10.5" dy="5.9">-N3</tspan><tspan dy="-5.9" font-style="italic">/A</tspan><tspan font-size="10.5" dy="5.9">C=O</tspan></text>
<text x="846" y="72.3" font-family="Liberation Sans" font-weight="bold" font-size="17"><tspan font-style="italic">A</tspan><tspan font-size="10.5" dy="5.9">C60</tspan><tspan dy="-5.9" font-style="italic">/A</tspan><tspan font-size="10.5" dy="5.9">C=O</tspan></text>
</svg>
</body></html>
